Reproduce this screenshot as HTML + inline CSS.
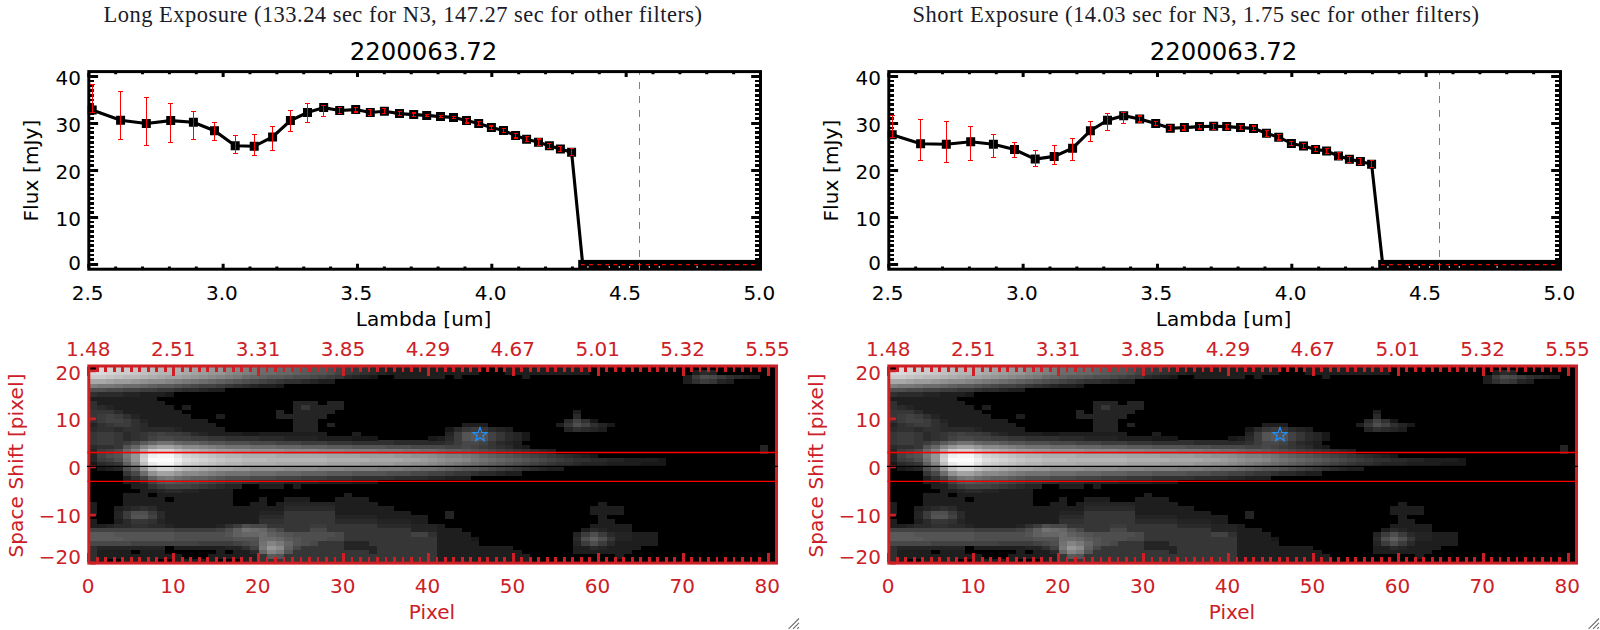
<!DOCTYPE html>
<html lang="en">
<head>
<meta charset="utf-8">
<title>Long and short exposure spectra 2200063.72</title>
<style>html,body{margin:0;padding:0;background:#fff;}body{width:1600px;height:630px;overflow:hidden;}svg{display:block;}text{white-space:pre;}</style>
</head>
<body>
<svg width="1600" height="630" viewBox="0 0 1600 630">
<rect width="1600" height="630" fill="#fff"/>
<defs>
<g id="spec" shape-rendering="crispEdges">
<rect x="88.8" y="366" width="687.7" height="197.1" fill="#000"/>
<rect x="88.8" y="558.72" width="8.54" height="4.43" fill="#303030"/>
<rect x="97.29" y="558.72" width="8.54" height="4.43" fill="#1e1e1e"/>
<rect x="122.76" y="558.72" width="34.01" height="4.43" fill="#1e1e1e"/>
<rect x="173.7" y="558.72" width="42.5" height="4.43" fill="#1e1e1e"/>
<rect x="241.62" y="558.72" width="17.03" height="4.43" fill="#1e1e1e"/>
<rect x="258.6" y="558.72" width="178.34" height="4.43" fill="#363636"/>
<rect x="436.9" y="558.72" width="93.44" height="4.43" fill="#1e1e1e"/>
<rect x="88.8" y="554.34" width="8.54" height="4.43" fill="#303030"/>
<rect x="97.29" y="554.34" width="84.95" height="4.43" fill="#1e1e1e"/>
<rect x="207.66" y="554.34" width="50.99" height="4.43" fill="#1e1e1e"/>
<rect x="258.6" y="554.34" width="8.54" height="4.43" fill="#363636"/>
<rect x="267.09" y="554.34" width="8.54" height="4.43" fill="#5a5a5a"/>
<rect x="275.58" y="554.34" width="8.54" height="4.43" fill="#545454"/>
<rect x="284.07" y="554.34" width="152.87" height="4.43" fill="#363636"/>
<rect x="436.9" y="554.34" width="93.44" height="4.43" fill="#1e1e1e"/>
<rect x="615.19" y="554.34" width="8.54" height="4.43" fill="#1e1e1e"/>
<rect x="88.8" y="549.96" width="8.54" height="4.43" fill="#303030"/>
<rect x="97.29" y="549.96" width="34.01" height="4.43" fill="#1e1e1e"/>
<rect x="139.74" y="549.96" width="25.52" height="4.43" fill="#1e1e1e"/>
<rect x="216.15" y="549.96" width="8.54" height="4.43" fill="#1e1e1e"/>
<rect x="233.13" y="549.96" width="17.03" height="4.43" fill="#1e1e1e"/>
<rect x="250.11" y="549.96" width="8.54" height="4.43" fill="#2a2a2a"/>
<rect x="258.6" y="549.96" width="8.54" height="4.43" fill="#666666"/>
<rect x="267.09" y="549.96" width="8.54" height="4.43" fill="#848484"/>
<rect x="275.58" y="549.96" width="8.54" height="4.43" fill="#787878"/>
<rect x="284.07" y="549.96" width="8.54" height="4.43" fill="#545454"/>
<rect x="292.56" y="549.96" width="76.46" height="4.43" fill="#363636"/>
<rect x="368.97" y="549.96" width="8.54" height="4.43" fill="#242424"/>
<rect x="377.46" y="549.96" width="59.48" height="4.43" fill="#363636"/>
<rect x="436.9" y="549.96" width="84.95" height="4.43" fill="#1e1e1e"/>
<rect x="572.74" y="549.96" width="59.48" height="4.43" fill="#1e1e1e"/>
<rect x="88.8" y="545.58" width="8.54" height="4.43" fill="#303030"/>
<rect x="97.29" y="545.58" width="67.97" height="4.43" fill="#242424"/>
<rect x="173.7" y="545.58" width="50.99" height="4.43" fill="#1e1e1e"/>
<rect x="224.64" y="545.58" width="17.03" height="4.43" fill="#242424"/>
<rect x="241.62" y="545.58" width="8.54" height="4.43" fill="#303030"/>
<rect x="250.11" y="545.58" width="8.54" height="4.43" fill="#424242"/>
<rect x="258.6" y="545.58" width="8.54" height="4.43" fill="#787878"/>
<rect x="267.09" y="545.58" width="8.54" height="4.43" fill="#969696"/>
<rect x="275.58" y="545.58" width="8.54" height="4.43" fill="#8a8a8a"/>
<rect x="284.07" y="545.58" width="8.54" height="4.43" fill="#606060"/>
<rect x="292.56" y="545.58" width="8.54" height="4.43" fill="#484848"/>
<rect x="301.05" y="545.58" width="42.5" height="4.43" fill="#363636"/>
<rect x="343.5" y="545.58" width="34.01" height="4.43" fill="#242424"/>
<rect x="377.46" y="545.58" width="59.48" height="4.43" fill="#363636"/>
<rect x="436.9" y="545.58" width="76.46" height="4.43" fill="#1e1e1e"/>
<rect x="572.74" y="545.58" width="17.03" height="4.43" fill="#1e1e1e"/>
<rect x="589.72" y="545.58" width="8.54" height="4.43" fill="#2a2a2a"/>
<rect x="598.21" y="545.58" width="8.54" height="4.43" fill="#242424"/>
<rect x="606.7" y="545.58" width="34.01" height="4.43" fill="#1e1e1e"/>
<rect x="88.8" y="541.2" width="42.5" height="4.43" fill="#484848"/>
<rect x="131.25" y="541.2" width="67.97" height="4.43" fill="#424242"/>
<rect x="199.17" y="541.2" width="34.01" height="4.43" fill="#3c3c3c"/>
<rect x="233.13" y="541.2" width="8.54" height="4.43" fill="#424242"/>
<rect x="241.62" y="541.2" width="8.54" height="4.43" fill="#484848"/>
<rect x="250.11" y="541.2" width="8.54" height="4.43" fill="#4e4e4e"/>
<rect x="258.6" y="541.2" width="8.54" height="4.43" fill="#727272"/>
<rect x="267.09" y="541.2" width="8.54" height="4.43" fill="#848484"/>
<rect x="275.58" y="541.2" width="8.54" height="4.43" fill="#787878"/>
<rect x="284.07" y="541.2" width="8.54" height="4.43" fill="#666666"/>
<rect x="292.56" y="541.2" width="8.54" height="4.43" fill="#545454"/>
<rect x="301.05" y="541.2" width="8.54" height="4.43" fill="#4e4e4e"/>
<rect x="309.54" y="541.2" width="8.54" height="4.43" fill="#484848"/>
<rect x="318.03" y="541.2" width="25.52" height="4.43" fill="#363636"/>
<rect x="343.5" y="541.2" width="25.52" height="4.43" fill="#242424"/>
<rect x="368.97" y="541.2" width="67.97" height="4.43" fill="#363636"/>
<rect x="436.9" y="541.2" width="42.5" height="4.43" fill="#1e1e1e"/>
<rect x="572.74" y="541.2" width="8.54" height="4.43" fill="#242424"/>
<rect x="581.23" y="541.2" width="8.54" height="4.43" fill="#3c3c3c"/>
<rect x="589.72" y="541.2" width="8.54" height="4.43" fill="#4e4e4e"/>
<rect x="598.21" y="541.2" width="8.54" height="4.43" fill="#3c3c3c"/>
<rect x="606.7" y="541.2" width="8.54" height="4.43" fill="#2a2a2a"/>
<rect x="615.19" y="541.2" width="42.5" height="4.43" fill="#1e1e1e"/>
<rect x="88.8" y="536.82" width="34.01" height="4.43" fill="#5a5a5a"/>
<rect x="122.76" y="536.82" width="50.99" height="4.43" fill="#545454"/>
<rect x="173.7" y="536.82" width="59.48" height="4.43" fill="#4e4e4e"/>
<rect x="233.13" y="536.82" width="25.52" height="4.43" fill="#545454"/>
<rect x="258.6" y="536.82" width="17.03" height="4.43" fill="#6c6c6c"/>
<rect x="275.58" y="536.82" width="8.54" height="4.43" fill="#666666"/>
<rect x="284.07" y="536.82" width="8.54" height="4.43" fill="#5a5a5a"/>
<rect x="292.56" y="536.82" width="8.54" height="4.43" fill="#545454"/>
<rect x="301.05" y="536.82" width="25.52" height="4.43" fill="#4e4e4e"/>
<rect x="326.52" y="536.82" width="17.03" height="4.43" fill="#484848"/>
<rect x="343.5" y="536.82" width="93.44" height="4.43" fill="#363636"/>
<rect x="436.9" y="536.82" width="34.01" height="4.43" fill="#1e1e1e"/>
<rect x="470.86" y="536.82" width="8.54" height="4.43" fill="#181818"/>
<rect x="572.74" y="536.82" width="8.54" height="4.43" fill="#2a2a2a"/>
<rect x="581.23" y="536.82" width="8.54" height="4.43" fill="#4e4e4e"/>
<rect x="589.72" y="536.82" width="8.54" height="4.43" fill="#606060"/>
<rect x="598.21" y="536.82" width="8.54" height="4.43" fill="#4e4e4e"/>
<rect x="606.7" y="536.82" width="8.54" height="4.43" fill="#363636"/>
<rect x="615.19" y="536.82" width="17.03" height="4.43" fill="#242424"/>
<rect x="632.17" y="536.82" width="25.52" height="4.43" fill="#1e1e1e"/>
<rect x="88.8" y="532.44" width="25.52" height="4.43" fill="#5a5a5a"/>
<rect x="114.27" y="532.44" width="59.48" height="4.43" fill="#545454"/>
<rect x="173.7" y="532.44" width="50.99" height="4.43" fill="#4e4e4e"/>
<rect x="224.64" y="532.44" width="8.54" height="4.43" fill="#545454"/>
<rect x="233.13" y="532.44" width="8.54" height="4.43" fill="#606060"/>
<rect x="241.62" y="532.44" width="17.03" height="4.43" fill="#666666"/>
<rect x="258.6" y="532.44" width="8.54" height="4.43" fill="#6c6c6c"/>
<rect x="267.09" y="532.44" width="8.54" height="4.43" fill="#606060"/>
<rect x="275.58" y="532.44" width="8.54" height="4.43" fill="#5a5a5a"/>
<rect x="284.07" y="532.44" width="8.54" height="4.43" fill="#545454"/>
<rect x="292.56" y="532.44" width="42.5" height="4.43" fill="#4e4e4e"/>
<rect x="335.01" y="532.44" width="8.54" height="4.43" fill="#484848"/>
<rect x="343.5" y="532.44" width="67.97" height="4.43" fill="#363636"/>
<rect x="411.42" y="532.44" width="17.03" height="4.43" fill="#424242"/>
<rect x="428.4" y="532.44" width="8.54" height="4.43" fill="#303030"/>
<rect x="436.9" y="532.44" width="34.01" height="4.43" fill="#1e1e1e"/>
<rect x="572.74" y="532.44" width="8.54" height="4.43" fill="#242424"/>
<rect x="581.23" y="532.44" width="8.54" height="4.43" fill="#3c3c3c"/>
<rect x="589.72" y="532.44" width="8.54" height="4.43" fill="#4e4e4e"/>
<rect x="598.21" y="532.44" width="8.54" height="4.43" fill="#3c3c3c"/>
<rect x="606.7" y="532.44" width="8.54" height="4.43" fill="#2a2a2a"/>
<rect x="615.19" y="532.44" width="17.03" height="4.43" fill="#242424"/>
<rect x="632.17" y="532.44" width="25.52" height="4.43" fill="#1e1e1e"/>
<rect x="88.8" y="528.06" width="84.95" height="4.43" fill="#424242"/>
<rect x="173.7" y="528.06" width="42.5" height="4.43" fill="#3c3c3c"/>
<rect x="216.15" y="528.06" width="8.54" height="4.43" fill="#424242"/>
<rect x="224.64" y="528.06" width="8.54" height="4.43" fill="#4e4e4e"/>
<rect x="233.13" y="528.06" width="8.54" height="4.43" fill="#606060"/>
<rect x="241.62" y="528.06" width="8.54" height="4.43" fill="#727272"/>
<rect x="250.11" y="528.06" width="8.54" height="4.43" fill="#6c6c6c"/>
<rect x="258.6" y="528.06" width="8.54" height="4.43" fill="#666666"/>
<rect x="267.09" y="528.06" width="8.54" height="4.43" fill="#545454"/>
<rect x="275.58" y="528.06" width="8.54" height="4.43" fill="#484848"/>
<rect x="284.07" y="528.06" width="25.52" height="4.43" fill="#363636"/>
<rect x="309.54" y="528.06" width="17.03" height="4.43" fill="#484848"/>
<rect x="326.52" y="528.06" width="84.95" height="4.43" fill="#363636"/>
<rect x="411.42" y="528.06" width="25.52" height="4.43" fill="#242424"/>
<rect x="436.9" y="528.06" width="25.52" height="4.43" fill="#1e1e1e"/>
<rect x="581.23" y="528.06" width="8.54" height="4.43" fill="#1e1e1e"/>
<rect x="589.72" y="528.06" width="8.54" height="4.43" fill="#2a2a2a"/>
<rect x="598.21" y="528.06" width="8.54" height="4.43" fill="#242424"/>
<rect x="606.7" y="528.06" width="25.52" height="4.43" fill="#1e1e1e"/>
<rect x="88.8" y="523.68" width="17.03" height="4.43" fill="#1e1e1e"/>
<rect x="105.78" y="523.68" width="8.54" height="4.43" fill="#242424"/>
<rect x="114.27" y="523.68" width="17.03" height="4.43" fill="#2a2a2a"/>
<rect x="131.25" y="523.68" width="17.03" height="4.43" fill="#303030"/>
<rect x="148.23" y="523.68" width="17.03" height="4.43" fill="#2a2a2a"/>
<rect x="165.21" y="523.68" width="8.54" height="4.43" fill="#242424"/>
<rect x="173.7" y="523.68" width="42.5" height="4.43" fill="#1e1e1e"/>
<rect x="216.15" y="523.68" width="8.54" height="4.43" fill="#242424"/>
<rect x="224.64" y="523.68" width="8.54" height="4.43" fill="#303030"/>
<rect x="233.13" y="523.68" width="8.54" height="4.43" fill="#3c3c3c"/>
<rect x="241.62" y="523.68" width="8.54" height="4.43" fill="#4e4e4e"/>
<rect x="250.11" y="523.68" width="17.03" height="4.43" fill="#484848"/>
<rect x="267.09" y="523.68" width="42.5" height="4.43" fill="#363636"/>
<rect x="309.54" y="523.68" width="17.03" height="4.43" fill="#3c3c3c"/>
<rect x="326.52" y="523.68" width="50.99" height="4.43" fill="#363636"/>
<rect x="377.46" y="523.68" width="34.01" height="4.43" fill="#2a2a2a"/>
<rect x="411.42" y="523.68" width="25.52" height="4.43" fill="#242424"/>
<rect x="436.9" y="523.68" width="8.54" height="4.43" fill="#1e1e1e"/>
<rect x="589.72" y="523.68" width="42.5" height="4.43" fill="#1e1e1e"/>
<rect x="88.8" y="519.3" width="8.54" height="4.43" fill="#1e1e1e"/>
<rect x="114.27" y="519.3" width="8.54" height="4.43" fill="#1e1e1e"/>
<rect x="122.76" y="519.3" width="8.54" height="4.43" fill="#2a2a2a"/>
<rect x="131.25" y="519.3" width="17.03" height="4.43" fill="#363636"/>
<rect x="148.23" y="519.3" width="8.54" height="4.43" fill="#303030"/>
<rect x="156.72" y="519.3" width="8.54" height="4.43" fill="#242424"/>
<rect x="165.21" y="519.3" width="93.44" height="4.43" fill="#1e1e1e"/>
<rect x="258.6" y="519.3" width="25.52" height="4.43" fill="#303030"/>
<rect x="284.07" y="519.3" width="50.99" height="4.43" fill="#363636"/>
<rect x="335.01" y="519.3" width="42.5" height="4.43" fill="#2a2a2a"/>
<rect x="377.46" y="519.3" width="34.01" height="4.43" fill="#242424"/>
<rect x="411.42" y="519.3" width="17.03" height="4.43" fill="#1e1e1e"/>
<rect x="598.21" y="519.3" width="17.03" height="4.43" fill="#1e1e1e"/>
<rect x="114.27" y="514.92" width="8.54" height="4.43" fill="#242424"/>
<rect x="122.76" y="514.92" width="8.54" height="4.43" fill="#3c3c3c"/>
<rect x="131.25" y="514.92" width="17.03" height="4.43" fill="#545454"/>
<rect x="148.23" y="514.92" width="8.54" height="4.43" fill="#424242"/>
<rect x="156.72" y="514.92" width="8.54" height="4.43" fill="#2a2a2a"/>
<rect x="165.21" y="514.92" width="93.44" height="4.43" fill="#1e1e1e"/>
<rect x="258.6" y="514.92" width="25.52" height="4.43" fill="#2a2a2a"/>
<rect x="284.07" y="514.92" width="50.99" height="4.43" fill="#363636"/>
<rect x="335.01" y="514.92" width="42.5" height="4.43" fill="#242424"/>
<rect x="377.46" y="514.92" width="50.99" height="4.43" fill="#1e1e1e"/>
<rect x="445.39" y="514.92" width="8.54" height="4.43" fill="#242424"/>
<rect x="598.21" y="514.92" width="8.54" height="4.43" fill="#1e1e1e"/>
<rect x="88.8" y="510.54" width="8.54" height="4.43" fill="#1e1e1e"/>
<rect x="114.27" y="510.54" width="8.54" height="4.43" fill="#242424"/>
<rect x="122.76" y="510.54" width="8.54" height="4.43" fill="#3c3c3c"/>
<rect x="131.25" y="510.54" width="17.03" height="4.43" fill="#4e4e4e"/>
<rect x="148.23" y="510.54" width="8.54" height="4.43" fill="#3c3c3c"/>
<rect x="156.72" y="510.54" width="8.54" height="4.43" fill="#2a2a2a"/>
<rect x="165.21" y="510.54" width="93.44" height="4.43" fill="#1e1e1e"/>
<rect x="258.6" y="510.54" width="25.52" height="4.43" fill="#242424"/>
<rect x="284.07" y="510.54" width="50.99" height="4.43" fill="#363636"/>
<rect x="335.01" y="510.54" width="76.46" height="4.43" fill="#1e1e1e"/>
<rect x="445.39" y="510.54" width="8.54" height="4.43" fill="#242424"/>
<rect x="589.72" y="510.54" width="34.01" height="4.43" fill="#1e1e1e"/>
<rect x="88.8" y="506.16" width="8.54" height="4.43" fill="#1e1e1e"/>
<rect x="114.27" y="506.16" width="8.54" height="4.43" fill="#1e1e1e"/>
<rect x="122.76" y="506.16" width="8.54" height="4.43" fill="#242424"/>
<rect x="131.25" y="506.16" width="8.54" height="4.43" fill="#2a2a2a"/>
<rect x="139.74" y="506.16" width="8.54" height="4.43" fill="#303030"/>
<rect x="148.23" y="506.16" width="8.54" height="4.43" fill="#2a2a2a"/>
<rect x="156.72" y="506.16" width="127.4" height="4.43" fill="#1e1e1e"/>
<rect x="284.07" y="506.16" width="50.99" height="4.43" fill="#2a2a2a"/>
<rect x="335.01" y="506.16" width="59.48" height="4.43" fill="#1e1e1e"/>
<rect x="589.72" y="506.16" width="34.01" height="4.43" fill="#1e1e1e"/>
<rect x="88.8" y="501.78" width="8.54" height="4.43" fill="#1e1e1e"/>
<rect x="122.76" y="501.78" width="110.42" height="4.43" fill="#1e1e1e"/>
<rect x="250.11" y="501.78" width="17.03" height="4.43" fill="#1e1e1e"/>
<rect x="275.58" y="501.78" width="8.54" height="4.43" fill="#1e1e1e"/>
<rect x="284.07" y="501.78" width="50.99" height="4.43" fill="#242424"/>
<rect x="335.01" y="501.78" width="42.5" height="4.43" fill="#1e1e1e"/>
<rect x="598.21" y="501.78" width="8.54" height="4.43" fill="#1e1e1e"/>
<rect x="122.76" y="497.4" width="42.5" height="4.43" fill="#1e1e1e"/>
<rect x="173.7" y="497.4" width="59.48" height="4.43" fill="#1e1e1e"/>
<rect x="258.6" y="497.4" width="8.54" height="4.43" fill="#1e1e1e"/>
<rect x="284.07" y="497.4" width="25.52" height="4.43" fill="#1e1e1e"/>
<rect x="335.01" y="497.4" width="34.01" height="4.43" fill="#1e1e1e"/>
<rect x="122.76" y="493.02" width="25.52" height="4.43" fill="#1e1e1e"/>
<rect x="156.72" y="493.02" width="76.46" height="4.43" fill="#1e1e1e"/>
<rect x="343.5" y="493.02" width="8.54" height="4.43" fill="#1e1e1e"/>
<rect x="139.74" y="488.64" width="17.03" height="4.43" fill="#1e1e1e"/>
<rect x="156.72" y="488.64" width="8.54" height="4.43" fill="#242424"/>
<rect x="165.21" y="488.64" width="17.03" height="4.43" fill="#2a2a2a"/>
<rect x="182.19" y="488.64" width="17.03" height="4.43" fill="#242424"/>
<rect x="199.17" y="488.64" width="34.01" height="4.43" fill="#1e1e1e"/>
<rect x="131.25" y="484.26" width="17.03" height="4.43" fill="#1e1e1e"/>
<rect x="148.23" y="484.26" width="8.54" height="4.43" fill="#303030"/>
<rect x="156.72" y="484.26" width="8.54" height="4.43" fill="#3c3c3c"/>
<rect x="165.21" y="484.26" width="25.52" height="4.43" fill="#424242"/>
<rect x="190.68" y="484.26" width="8.54" height="4.43" fill="#3c3c3c"/>
<rect x="199.17" y="484.26" width="8.54" height="4.43" fill="#363636"/>
<rect x="207.66" y="484.26" width="8.54" height="4.43" fill="#303030"/>
<rect x="216.15" y="484.26" width="8.54" height="4.43" fill="#2a2a2a"/>
<rect x="224.64" y="484.26" width="17.03" height="4.43" fill="#242424"/>
<rect x="258.6" y="484.26" width="25.52" height="4.43" fill="#1e1e1e"/>
<rect x="292.56" y="484.26" width="8.54" height="4.43" fill="#1e1e1e"/>
<rect x="122.76" y="479.88" width="17.03" height="4.43" fill="#1e1e1e"/>
<rect x="139.74" y="479.88" width="8.54" height="4.43" fill="#2a2a2a"/>
<rect x="148.23" y="479.88" width="8.54" height="4.43" fill="#424242"/>
<rect x="156.72" y="479.88" width="8.54" height="4.43" fill="#545454"/>
<rect x="165.21" y="479.88" width="8.54" height="4.43" fill="#5a5a5a"/>
<rect x="173.7" y="479.88" width="8.54" height="4.43" fill="#545454"/>
<rect x="182.19" y="479.88" width="17.03" height="4.43" fill="#4e4e4e"/>
<rect x="199.17" y="479.88" width="8.54" height="4.43" fill="#484848"/>
<rect x="207.66" y="479.88" width="8.54" height="4.43" fill="#424242"/>
<rect x="216.15" y="479.88" width="8.54" height="4.43" fill="#3c3c3c"/>
<rect x="224.64" y="479.88" width="17.03" height="4.43" fill="#363636"/>
<rect x="241.62" y="479.88" width="17.03" height="4.43" fill="#303030"/>
<rect x="258.6" y="479.88" width="25.52" height="4.43" fill="#2a2a2a"/>
<rect x="284.07" y="479.88" width="34.01" height="4.43" fill="#242424"/>
<rect x="318.03" y="479.88" width="34.01" height="4.43" fill="#1e1e1e"/>
<rect x="351.99" y="479.88" width="25.52" height="4.43" fill="#181818"/>
<rect x="122.76" y="475.5" width="8.54" height="4.43" fill="#1e1e1e"/>
<rect x="131.25" y="475.5" width="8.54" height="4.43" fill="#303030"/>
<rect x="139.74" y="475.5" width="8.54" height="4.43" fill="#424242"/>
<rect x="148.23" y="475.5" width="8.54" height="4.43" fill="#606060"/>
<rect x="156.72" y="475.5" width="8.54" height="4.43" fill="#727272"/>
<rect x="165.21" y="475.5" width="8.54" height="4.43" fill="#787878"/>
<rect x="173.7" y="475.5" width="8.54" height="4.43" fill="#6c6c6c"/>
<rect x="182.19" y="475.5" width="8.54" height="4.43" fill="#666666"/>
<rect x="190.68" y="475.5" width="17.03" height="4.43" fill="#606060"/>
<rect x="207.66" y="475.5" width="8.54" height="4.43" fill="#5a5a5a"/>
<rect x="216.15" y="475.5" width="8.54" height="4.43" fill="#545454"/>
<rect x="224.64" y="475.5" width="25.52" height="4.43" fill="#4e4e4e"/>
<rect x="250.11" y="475.5" width="25.52" height="4.43" fill="#484848"/>
<rect x="275.58" y="475.5" width="25.52" height="4.43" fill="#424242"/>
<rect x="301.05" y="475.5" width="25.52" height="4.43" fill="#3c3c3c"/>
<rect x="326.52" y="475.5" width="25.52" height="4.43" fill="#363636"/>
<rect x="351.99" y="475.5" width="42.5" height="4.43" fill="#303030"/>
<rect x="394.44" y="475.5" width="34.01" height="4.43" fill="#2a2a2a"/>
<rect x="428.4" y="475.5" width="17.03" height="4.43" fill="#242424"/>
<rect x="445.39" y="475.5" width="25.52" height="4.43" fill="#1e1e1e"/>
<rect x="122.76" y="471.12" width="8.54" height="4.43" fill="#363636"/>
<rect x="131.25" y="471.12" width="8.54" height="4.43" fill="#484848"/>
<rect x="139.74" y="471.12" width="8.54" height="4.43" fill="#6c6c6c"/>
<rect x="148.23" y="471.12" width="8.54" height="4.43" fill="#909090"/>
<rect x="156.72" y="471.12" width="17.03" height="4.43" fill="#a2a2a2"/>
<rect x="173.7" y="471.12" width="8.54" height="4.43" fill="#969696"/>
<rect x="182.19" y="471.12" width="17.03" height="4.43" fill="#8a8a8a"/>
<rect x="199.17" y="471.12" width="8.54" height="4.43" fill="#848484"/>
<rect x="207.66" y="471.12" width="8.54" height="4.43" fill="#7e7e7e"/>
<rect x="216.15" y="471.12" width="8.54" height="4.43" fill="#787878"/>
<rect x="224.64" y="471.12" width="25.52" height="4.43" fill="#727272"/>
<rect x="250.11" y="471.12" width="25.52" height="4.43" fill="#6c6c6c"/>
<rect x="275.58" y="471.12" width="25.52" height="4.43" fill="#666666"/>
<rect x="301.05" y="471.12" width="25.52" height="4.43" fill="#606060"/>
<rect x="326.52" y="471.12" width="25.52" height="4.43" fill="#5a5a5a"/>
<rect x="351.99" y="471.12" width="34.01" height="4.43" fill="#545454"/>
<rect x="385.95" y="471.12" width="25.52" height="4.43" fill="#4e4e4e"/>
<rect x="411.42" y="471.12" width="17.03" height="4.43" fill="#484848"/>
<rect x="428.4" y="471.12" width="17.03" height="4.43" fill="#424242"/>
<rect x="445.39" y="471.12" width="8.54" height="4.43" fill="#3c3c3c"/>
<rect x="453.88" y="471.12" width="17.03" height="4.43" fill="#363636"/>
<rect x="470.86" y="471.12" width="8.54" height="4.43" fill="#303030"/>
<rect x="479.35" y="471.12" width="17.03" height="4.43" fill="#2a2a2a"/>
<rect x="496.33" y="471.12" width="8.54" height="4.43" fill="#242424"/>
<rect x="504.82" y="471.12" width="17.03" height="4.43" fill="#1e1e1e"/>
<rect x="97.29" y="466.74" width="8.54" height="4.43" fill="#181818"/>
<rect x="105.78" y="466.74" width="8.54" height="4.43" fill="#1e1e1e"/>
<rect x="114.27" y="466.74" width="8.54" height="4.43" fill="#242424"/>
<rect x="122.76" y="466.74" width="8.54" height="4.43" fill="#4e4e4e"/>
<rect x="131.25" y="466.74" width="8.54" height="4.43" fill="#666666"/>
<rect x="139.74" y="466.74" width="8.54" height="4.43" fill="#969696"/>
<rect x="148.23" y="466.74" width="8.54" height="4.43" fill="#c0c0c0"/>
<rect x="156.72" y="466.74" width="17.03" height="4.43" fill="#d2d2d2"/>
<rect x="173.7" y="466.74" width="8.54" height="4.43" fill="#c0c0c0"/>
<rect x="182.19" y="466.74" width="8.54" height="4.43" fill="#b4b4b4"/>
<rect x="190.68" y="466.74" width="8.54" height="4.43" fill="#aeaeae"/>
<rect x="199.17" y="466.74" width="8.54" height="4.43" fill="#a8a8a8"/>
<rect x="207.66" y="466.74" width="8.54" height="4.43" fill="#a2a2a2"/>
<rect x="216.15" y="466.74" width="17.03" height="4.43" fill="#9c9c9c"/>
<rect x="233.13" y="466.74" width="17.03" height="4.43" fill="#969696"/>
<rect x="250.11" y="466.74" width="34.01" height="4.43" fill="#909090"/>
<rect x="284.07" y="466.74" width="34.01" height="4.43" fill="#8a8a8a"/>
<rect x="318.03" y="466.74" width="25.52" height="4.43" fill="#848484"/>
<rect x="343.5" y="466.74" width="34.01" height="4.43" fill="#7e7e7e"/>
<rect x="377.46" y="466.74" width="25.52" height="4.43" fill="#787878"/>
<rect x="402.93" y="466.74" width="17.03" height="4.43" fill="#727272"/>
<rect x="419.91" y="466.74" width="17.03" height="4.43" fill="#6c6c6c"/>
<rect x="436.9" y="466.74" width="8.54" height="4.43" fill="#666666"/>
<rect x="445.39" y="466.74" width="8.54" height="4.43" fill="#606060"/>
<rect x="453.88" y="466.74" width="8.54" height="4.43" fill="#5a5a5a"/>
<rect x="462.37" y="466.74" width="17.03" height="4.43" fill="#545454"/>
<rect x="479.35" y="466.74" width="8.54" height="4.43" fill="#4e4e4e"/>
<rect x="487.84" y="466.74" width="8.54" height="4.43" fill="#484848"/>
<rect x="496.33" y="466.74" width="8.54" height="4.43" fill="#424242"/>
<rect x="504.82" y="466.74" width="8.54" height="4.43" fill="#3c3c3c"/>
<rect x="513.31" y="466.74" width="8.54" height="4.43" fill="#363636"/>
<rect x="521.8" y="466.74" width="8.54" height="4.43" fill="#303030"/>
<rect x="530.29" y="466.74" width="8.54" height="4.43" fill="#2a2a2a"/>
<rect x="538.78" y="466.74" width="8.54" height="4.43" fill="#242424"/>
<rect x="547.27" y="466.74" width="17.03" height="4.43" fill="#1e1e1e"/>
<rect x="88.8" y="462.36" width="8.54" height="4.43" fill="#181818"/>
<rect x="97.29" y="462.36" width="8.54" height="4.43" fill="#2a2a2a"/>
<rect x="105.78" y="462.36" width="8.54" height="4.43" fill="#303030"/>
<rect x="114.27" y="462.36" width="8.54" height="4.43" fill="#363636"/>
<rect x="122.76" y="462.36" width="8.54" height="4.43" fill="#606060"/>
<rect x="131.25" y="462.36" width="8.54" height="4.43" fill="#848484"/>
<rect x="139.74" y="462.36" width="8.54" height="4.43" fill="#c0c0c0"/>
<rect x="148.23" y="462.36" width="8.54" height="4.43" fill="#eaeaea"/>
<rect x="156.72" y="462.36" width="17.03" height="4.43" fill="#f6f6f6"/>
<rect x="173.7" y="462.36" width="8.54" height="4.43" fill="#e4e4e4"/>
<rect x="182.19" y="462.36" width="8.54" height="4.43" fill="#d2d2d2"/>
<rect x="190.68" y="462.36" width="8.54" height="4.43" fill="#cccccc"/>
<rect x="199.17" y="462.36" width="8.54" height="4.43" fill="#c6c6c6"/>
<rect x="207.66" y="462.36" width="8.54" height="4.43" fill="#c0c0c0"/>
<rect x="216.15" y="462.36" width="8.54" height="4.43" fill="#bababa"/>
<rect x="224.64" y="462.36" width="17.03" height="4.43" fill="#b4b4b4"/>
<rect x="241.62" y="462.36" width="34.01" height="4.43" fill="#aeaeae"/>
<rect x="275.58" y="462.36" width="50.99" height="4.43" fill="#a8a8a8"/>
<rect x="326.52" y="462.36" width="34.01" height="4.43" fill="#a2a2a2"/>
<rect x="360.48" y="462.36" width="34.01" height="4.43" fill="#9c9c9c"/>
<rect x="394.44" y="462.36" width="17.03" height="4.43" fill="#969696"/>
<rect x="411.42" y="462.36" width="17.03" height="4.43" fill="#909090"/>
<rect x="428.4" y="462.36" width="8.54" height="4.43" fill="#8a8a8a"/>
<rect x="436.9" y="462.36" width="8.54" height="4.43" fill="#848484"/>
<rect x="445.39" y="462.36" width="8.54" height="4.43" fill="#7e7e7e"/>
<rect x="453.88" y="462.36" width="8.54" height="4.43" fill="#787878"/>
<rect x="462.37" y="462.36" width="8.54" height="4.43" fill="#727272"/>
<rect x="470.86" y="462.36" width="8.54" height="4.43" fill="#6c6c6c"/>
<rect x="479.35" y="462.36" width="8.54" height="4.43" fill="#666666"/>
<rect x="487.84" y="462.36" width="8.54" height="4.43" fill="#606060"/>
<rect x="496.33" y="462.36" width="8.54" height="4.43" fill="#5a5a5a"/>
<rect x="504.82" y="462.36" width="8.54" height="4.43" fill="#545454"/>
<rect x="513.31" y="462.36" width="8.54" height="4.43" fill="#4e4e4e"/>
<rect x="521.8" y="462.36" width="8.54" height="4.43" fill="#484848"/>
<rect x="530.29" y="462.36" width="8.54" height="4.43" fill="#424242"/>
<rect x="538.78" y="462.36" width="8.54" height="4.43" fill="#3c3c3c"/>
<rect x="547.27" y="462.36" width="8.54" height="4.43" fill="#363636"/>
<rect x="555.76" y="462.36" width="17.03" height="4.43" fill="#303030"/>
<rect x="572.74" y="462.36" width="8.54" height="4.43" fill="#2a2a2a"/>
<rect x="581.23" y="462.36" width="25.52" height="4.43" fill="#242424"/>
<rect x="606.7" y="462.36" width="34.01" height="4.43" fill="#1e1e1e"/>
<rect x="640.66" y="462.36" width="25.52" height="4.43" fill="#181818"/>
<rect x="88.8" y="457.98" width="8.54" height="4.43" fill="#242424"/>
<rect x="97.29" y="457.98" width="8.54" height="4.43" fill="#3c3c3c"/>
<rect x="105.78" y="457.98" width="8.54" height="4.43" fill="#424242"/>
<rect x="114.27" y="457.98" width="8.54" height="4.43" fill="#4e4e4e"/>
<rect x="122.76" y="457.98" width="8.54" height="4.43" fill="#727272"/>
<rect x="131.25" y="457.98" width="8.54" height="4.43" fill="#969696"/>
<rect x="139.74" y="457.98" width="8.54" height="4.43" fill="#d2d2d2"/>
<rect x="148.23" y="457.98" width="25.52" height="4.43" fill="#fcfcfc"/>
<rect x="173.7" y="457.98" width="8.54" height="4.43" fill="#f0f0f0"/>
<rect x="182.19" y="457.98" width="8.54" height="4.43" fill="#dedede"/>
<rect x="190.68" y="457.98" width="8.54" height="4.43" fill="#d8d8d8"/>
<rect x="199.17" y="457.98" width="8.54" height="4.43" fill="#d2d2d2"/>
<rect x="207.66" y="457.98" width="8.54" height="4.43" fill="#cccccc"/>
<rect x="216.15" y="457.98" width="8.54" height="4.43" fill="#c6c6c6"/>
<rect x="224.64" y="457.98" width="17.03" height="4.43" fill="#c0c0c0"/>
<rect x="241.62" y="457.98" width="25.52" height="4.43" fill="#bababa"/>
<rect x="267.09" y="457.98" width="59.48" height="4.43" fill="#b4b4b4"/>
<rect x="326.52" y="457.98" width="42.5" height="4.43" fill="#aeaeae"/>
<rect x="368.97" y="457.98" width="34.01" height="4.43" fill="#a8a8a8"/>
<rect x="402.93" y="457.98" width="17.03" height="4.43" fill="#a2a2a2"/>
<rect x="419.91" y="457.98" width="8.54" height="4.43" fill="#9c9c9c"/>
<rect x="428.4" y="457.98" width="8.54" height="4.43" fill="#969696"/>
<rect x="436.9" y="457.98" width="8.54" height="4.43" fill="#909090"/>
<rect x="445.39" y="457.98" width="17.03" height="4.43" fill="#8a8a8a"/>
<rect x="462.37" y="457.98" width="8.54" height="4.43" fill="#848484"/>
<rect x="470.86" y="457.98" width="8.54" height="4.43" fill="#787878"/>
<rect x="479.35" y="457.98" width="8.54" height="4.43" fill="#727272"/>
<rect x="487.84" y="457.98" width="8.54" height="4.43" fill="#6c6c6c"/>
<rect x="496.33" y="457.98" width="8.54" height="4.43" fill="#666666"/>
<rect x="504.82" y="457.98" width="8.54" height="4.43" fill="#606060"/>
<rect x="513.31" y="457.98" width="8.54" height="4.43" fill="#5a5a5a"/>
<rect x="521.8" y="457.98" width="8.54" height="4.43" fill="#545454"/>
<rect x="530.29" y="457.98" width="8.54" height="4.43" fill="#4e4e4e"/>
<rect x="538.78" y="457.98" width="8.54" height="4.43" fill="#484848"/>
<rect x="547.27" y="457.98" width="8.54" height="4.43" fill="#424242"/>
<rect x="555.76" y="457.98" width="8.54" height="4.43" fill="#3c3c3c"/>
<rect x="564.25" y="457.98" width="8.54" height="4.43" fill="#363636"/>
<rect x="572.74" y="457.98" width="17.03" height="4.43" fill="#303030"/>
<rect x="589.72" y="457.98" width="17.03" height="4.43" fill="#2a2a2a"/>
<rect x="606.7" y="457.98" width="17.03" height="4.43" fill="#242424"/>
<rect x="623.68" y="457.98" width="34.01" height="4.43" fill="#1e1e1e"/>
<rect x="657.64" y="457.98" width="8.54" height="4.43" fill="#181818"/>
<rect x="88.8" y="453.6" width="8.54" height="4.43" fill="#242424"/>
<rect x="97.29" y="453.6" width="8.54" height="4.43" fill="#424242"/>
<rect x="105.78" y="453.6" width="8.54" height="4.43" fill="#4e4e4e"/>
<rect x="114.27" y="453.6" width="8.54" height="4.43" fill="#545454"/>
<rect x="122.76" y="453.6" width="8.54" height="4.43" fill="#787878"/>
<rect x="131.25" y="453.6" width="8.54" height="4.43" fill="#969696"/>
<rect x="139.74" y="453.6" width="8.54" height="4.43" fill="#cccccc"/>
<rect x="148.23" y="453.6" width="8.54" height="4.43" fill="#f0f0f0"/>
<rect x="156.72" y="453.6" width="17.03" height="4.43" fill="#f6f6f6"/>
<rect x="173.7" y="453.6" width="8.54" height="4.43" fill="#e4e4e4"/>
<rect x="182.19" y="453.6" width="8.54" height="4.43" fill="#d2d2d2"/>
<rect x="190.68" y="453.6" width="8.54" height="4.43" fill="#cccccc"/>
<rect x="199.17" y="453.6" width="8.54" height="4.43" fill="#c6c6c6"/>
<rect x="207.66" y="453.6" width="8.54" height="4.43" fill="#c0c0c0"/>
<rect x="216.15" y="453.6" width="8.54" height="4.43" fill="#bababa"/>
<rect x="224.64" y="453.6" width="17.03" height="4.43" fill="#b4b4b4"/>
<rect x="241.62" y="453.6" width="34.01" height="4.43" fill="#aeaeae"/>
<rect x="275.58" y="453.6" width="50.99" height="4.43" fill="#a8a8a8"/>
<rect x="326.52" y="453.6" width="34.01" height="4.43" fill="#a2a2a2"/>
<rect x="360.48" y="453.6" width="34.01" height="4.43" fill="#9c9c9c"/>
<rect x="394.44" y="453.6" width="17.03" height="4.43" fill="#969696"/>
<rect x="411.42" y="453.6" width="17.03" height="4.43" fill="#909090"/>
<rect x="428.4" y="453.6" width="8.54" height="4.43" fill="#8a8a8a"/>
<rect x="436.9" y="453.6" width="8.54" height="4.43" fill="#848484"/>
<rect x="445.39" y="453.6" width="17.03" height="4.43" fill="#7e7e7e"/>
<rect x="462.37" y="453.6" width="8.54" height="4.43" fill="#787878"/>
<rect x="470.86" y="453.6" width="8.54" height="4.43" fill="#727272"/>
<rect x="479.35" y="453.6" width="8.54" height="4.43" fill="#666666"/>
<rect x="487.84" y="453.6" width="8.54" height="4.43" fill="#606060"/>
<rect x="496.33" y="453.6" width="8.54" height="4.43" fill="#5a5a5a"/>
<rect x="504.82" y="453.6" width="8.54" height="4.43" fill="#545454"/>
<rect x="513.31" y="453.6" width="8.54" height="4.43" fill="#4e4e4e"/>
<rect x="521.8" y="453.6" width="8.54" height="4.43" fill="#484848"/>
<rect x="530.29" y="453.6" width="8.54" height="4.43" fill="#424242"/>
<rect x="538.78" y="453.6" width="8.54" height="4.43" fill="#3c3c3c"/>
<rect x="547.27" y="453.6" width="8.54" height="4.43" fill="#363636"/>
<rect x="555.76" y="453.6" width="8.54" height="4.43" fill="#303030"/>
<rect x="564.25" y="453.6" width="8.54" height="4.43" fill="#2a2a2a"/>
<rect x="572.74" y="453.6" width="8.54" height="4.43" fill="#242424"/>
<rect x="581.23" y="453.6" width="8.54" height="4.43" fill="#1e1e1e"/>
<rect x="589.72" y="453.6" width="8.54" height="4.43" fill="#181818"/>
<rect x="88.8" y="449.22" width="8.54" height="4.43" fill="#242424"/>
<rect x="97.29" y="449.22" width="8.54" height="4.43" fill="#3c3c3c"/>
<rect x="105.78" y="449.22" width="8.54" height="4.43" fill="#424242"/>
<rect x="114.27" y="449.22" width="8.54" height="4.43" fill="#4e4e4e"/>
<rect x="122.76" y="449.22" width="8.54" height="4.43" fill="#6c6c6c"/>
<rect x="131.25" y="449.22" width="8.54" height="4.43" fill="#848484"/>
<rect x="139.74" y="449.22" width="8.54" height="4.43" fill="#aeaeae"/>
<rect x="148.23" y="449.22" width="8.54" height="4.43" fill="#cccccc"/>
<rect x="156.72" y="449.22" width="17.03" height="4.43" fill="#d2d2d2"/>
<rect x="173.7" y="449.22" width="8.54" height="4.43" fill="#c0c0c0"/>
<rect x="182.19" y="449.22" width="8.54" height="4.43" fill="#b4b4b4"/>
<rect x="190.68" y="449.22" width="8.54" height="4.43" fill="#aeaeae"/>
<rect x="199.17" y="449.22" width="8.54" height="4.43" fill="#a8a8a8"/>
<rect x="207.66" y="449.22" width="8.54" height="4.43" fill="#a2a2a2"/>
<rect x="216.15" y="449.22" width="17.03" height="4.43" fill="#9c9c9c"/>
<rect x="233.13" y="449.22" width="17.03" height="4.43" fill="#969696"/>
<rect x="250.11" y="449.22" width="34.01" height="4.43" fill="#909090"/>
<rect x="284.07" y="449.22" width="34.01" height="4.43" fill="#8a8a8a"/>
<rect x="318.03" y="449.22" width="25.52" height="4.43" fill="#848484"/>
<rect x="343.5" y="449.22" width="34.01" height="4.43" fill="#7e7e7e"/>
<rect x="377.46" y="449.22" width="25.52" height="4.43" fill="#787878"/>
<rect x="402.93" y="449.22" width="17.03" height="4.43" fill="#727272"/>
<rect x="419.91" y="449.22" width="17.03" height="4.43" fill="#6c6c6c"/>
<rect x="436.9" y="449.22" width="8.54" height="4.43" fill="#666666"/>
<rect x="445.39" y="449.22" width="17.03" height="4.43" fill="#606060"/>
<rect x="462.37" y="449.22" width="8.54" height="4.43" fill="#5a5a5a"/>
<rect x="470.86" y="449.22" width="8.54" height="4.43" fill="#545454"/>
<rect x="479.35" y="449.22" width="8.54" height="4.43" fill="#4e4e4e"/>
<rect x="487.84" y="449.22" width="8.54" height="4.43" fill="#484848"/>
<rect x="496.33" y="449.22" width="8.54" height="4.43" fill="#424242"/>
<rect x="504.82" y="449.22" width="8.54" height="4.43" fill="#3c3c3c"/>
<rect x="513.31" y="449.22" width="8.54" height="4.43" fill="#363636"/>
<rect x="521.8" y="449.22" width="8.54" height="4.43" fill="#303030"/>
<rect x="530.29" y="449.22" width="8.54" height="4.43" fill="#2a2a2a"/>
<rect x="538.78" y="449.22" width="8.54" height="4.43" fill="#242424"/>
<rect x="547.27" y="449.22" width="8.54" height="4.43" fill="#1e1e1e"/>
<rect x="759.52" y="449.22" width="8.54" height="4.43" fill="#242424"/>
<rect x="88.8" y="444.84" width="8.54" height="4.43" fill="#2a2a2a"/>
<rect x="97.29" y="444.84" width="17.03" height="4.43" fill="#303030"/>
<rect x="114.27" y="444.84" width="8.54" height="4.43" fill="#363636"/>
<rect x="122.76" y="444.84" width="8.54" height="4.43" fill="#545454"/>
<rect x="131.25" y="444.84" width="8.54" height="4.43" fill="#666666"/>
<rect x="139.74" y="444.84" width="8.54" height="4.43" fill="#848484"/>
<rect x="148.23" y="444.84" width="8.54" height="4.43" fill="#969696"/>
<rect x="156.72" y="444.84" width="17.03" height="4.43" fill="#a2a2a2"/>
<rect x="173.7" y="444.84" width="8.54" height="4.43" fill="#969696"/>
<rect x="182.19" y="444.84" width="17.03" height="4.43" fill="#8a8a8a"/>
<rect x="199.17" y="444.84" width="8.54" height="4.43" fill="#848484"/>
<rect x="207.66" y="444.84" width="8.54" height="4.43" fill="#7e7e7e"/>
<rect x="216.15" y="444.84" width="8.54" height="4.43" fill="#787878"/>
<rect x="224.64" y="444.84" width="25.52" height="4.43" fill="#727272"/>
<rect x="250.11" y="444.84" width="25.52" height="4.43" fill="#6c6c6c"/>
<rect x="275.58" y="444.84" width="25.52" height="4.43" fill="#666666"/>
<rect x="301.05" y="444.84" width="25.52" height="4.43" fill="#606060"/>
<rect x="326.52" y="444.84" width="25.52" height="4.43" fill="#5a5a5a"/>
<rect x="351.99" y="444.84" width="34.01" height="4.43" fill="#545454"/>
<rect x="385.95" y="444.84" width="25.52" height="4.43" fill="#4e4e4e"/>
<rect x="411.42" y="444.84" width="34.01" height="4.43" fill="#484848"/>
<rect x="445.39" y="444.84" width="17.03" height="4.43" fill="#424242"/>
<rect x="462.37" y="444.84" width="8.54" height="4.43" fill="#484848"/>
<rect x="470.86" y="444.84" width="8.54" height="4.43" fill="#424242"/>
<rect x="479.35" y="444.84" width="8.54" height="4.43" fill="#3c3c3c"/>
<rect x="487.84" y="444.84" width="8.54" height="4.43" fill="#363636"/>
<rect x="496.33" y="444.84" width="8.54" height="4.43" fill="#303030"/>
<rect x="504.82" y="444.84" width="8.54" height="4.43" fill="#2a2a2a"/>
<rect x="513.31" y="444.84" width="8.54" height="4.43" fill="#1e1e1e"/>
<rect x="521.8" y="444.84" width="8.54" height="4.43" fill="#181818"/>
<rect x="759.52" y="444.84" width="8.54" height="4.43" fill="#242424"/>
<rect x="88.8" y="440.46" width="8.54" height="4.43" fill="#363636"/>
<rect x="97.29" y="440.46" width="17.03" height="4.43" fill="#3c3c3c"/>
<rect x="114.27" y="440.46" width="8.54" height="4.43" fill="#363636"/>
<rect x="122.76" y="440.46" width="8.54" height="4.43" fill="#3c3c3c"/>
<rect x="131.25" y="440.46" width="8.54" height="4.43" fill="#484848"/>
<rect x="139.74" y="440.46" width="8.54" height="4.43" fill="#5a5a5a"/>
<rect x="148.23" y="440.46" width="8.54" height="4.43" fill="#666666"/>
<rect x="156.72" y="440.46" width="17.03" height="4.43" fill="#727272"/>
<rect x="173.7" y="440.46" width="8.54" height="4.43" fill="#666666"/>
<rect x="182.19" y="440.46" width="17.03" height="4.43" fill="#606060"/>
<rect x="199.17" y="440.46" width="8.54" height="4.43" fill="#5a5a5a"/>
<rect x="207.66" y="440.46" width="17.03" height="4.43" fill="#545454"/>
<rect x="224.64" y="440.46" width="25.52" height="4.43" fill="#4e4e4e"/>
<rect x="250.11" y="440.46" width="25.52" height="4.43" fill="#484848"/>
<rect x="275.58" y="440.46" width="25.52" height="4.43" fill="#424242"/>
<rect x="301.05" y="440.46" width="25.52" height="4.43" fill="#3c3c3c"/>
<rect x="326.52" y="440.46" width="25.52" height="4.43" fill="#363636"/>
<rect x="351.99" y="440.46" width="42.5" height="4.43" fill="#303030"/>
<rect x="394.44" y="440.46" width="50.99" height="4.43" fill="#2a2a2a"/>
<rect x="445.39" y="440.46" width="8.54" height="4.43" fill="#303030"/>
<rect x="453.88" y="440.46" width="8.54" height="4.43" fill="#3c3c3c"/>
<rect x="462.37" y="440.46" width="17.03" height="4.43" fill="#484848"/>
<rect x="479.35" y="440.46" width="8.54" height="4.43" fill="#424242"/>
<rect x="487.84" y="440.46" width="8.54" height="4.43" fill="#363636"/>
<rect x="496.33" y="440.46" width="8.54" height="4.43" fill="#2a2a2a"/>
<rect x="504.82" y="440.46" width="8.54" height="4.43" fill="#242424"/>
<rect x="513.31" y="440.46" width="8.54" height="4.43" fill="#1e1e1e"/>
<rect x="88.8" y="436.08" width="8.54" height="4.43" fill="#363636"/>
<rect x="97.29" y="436.08" width="17.03" height="4.43" fill="#3c3c3c"/>
<rect x="114.27" y="436.08" width="8.54" height="4.43" fill="#363636"/>
<rect x="122.76" y="436.08" width="8.54" height="4.43" fill="#2a2a2a"/>
<rect x="131.25" y="436.08" width="8.54" height="4.43" fill="#303030"/>
<rect x="139.74" y="436.08" width="8.54" height="4.43" fill="#363636"/>
<rect x="148.23" y="436.08" width="8.54" height="4.43" fill="#424242"/>
<rect x="156.72" y="436.08" width="17.03" height="4.43" fill="#484848"/>
<rect x="173.7" y="436.08" width="17.03" height="4.43" fill="#424242"/>
<rect x="190.68" y="436.08" width="17.03" height="4.43" fill="#3c3c3c"/>
<rect x="207.66" y="436.08" width="17.03" height="4.43" fill="#363636"/>
<rect x="224.64" y="436.08" width="34.01" height="4.43" fill="#303030"/>
<rect x="258.6" y="436.08" width="25.52" height="4.43" fill="#2a2a2a"/>
<rect x="284.07" y="436.08" width="34.01" height="4.43" fill="#242424"/>
<rect x="318.03" y="436.08" width="34.01" height="4.43" fill="#1e1e1e"/>
<rect x="351.99" y="436.08" width="25.52" height="4.43" fill="#181818"/>
<rect x="428.4" y="436.08" width="8.54" height="4.43" fill="#181818"/>
<rect x="436.9" y="436.08" width="8.54" height="4.43" fill="#1e1e1e"/>
<rect x="445.39" y="436.08" width="8.54" height="4.43" fill="#2a2a2a"/>
<rect x="453.88" y="436.08" width="8.54" height="4.43" fill="#3c3c3c"/>
<rect x="462.37" y="436.08" width="8.54" height="4.43" fill="#545454"/>
<rect x="470.86" y="436.08" width="8.54" height="4.43" fill="#5a5a5a"/>
<rect x="479.35" y="436.08" width="8.54" height="4.43" fill="#545454"/>
<rect x="487.84" y="436.08" width="8.54" height="4.43" fill="#424242"/>
<rect x="496.33" y="436.08" width="8.54" height="4.43" fill="#363636"/>
<rect x="504.82" y="436.08" width="8.54" height="4.43" fill="#2a2a2a"/>
<rect x="513.31" y="436.08" width="8.54" height="4.43" fill="#242424"/>
<rect x="521.8" y="436.08" width="8.54" height="4.43" fill="#181818"/>
<rect x="88.8" y="431.7" width="8.54" height="4.43" fill="#363636"/>
<rect x="97.29" y="431.7" width="17.03" height="4.43" fill="#3c3c3c"/>
<rect x="114.27" y="431.7" width="8.54" height="4.43" fill="#363636"/>
<rect x="122.76" y="431.7" width="8.54" height="4.43" fill="#2a2a2a"/>
<rect x="131.25" y="431.7" width="8.54" height="4.43" fill="#303030"/>
<rect x="139.74" y="431.7" width="8.54" height="4.43" fill="#363636"/>
<rect x="148.23" y="431.7" width="8.54" height="4.43" fill="#3c3c3c"/>
<rect x="156.72" y="431.7" width="8.54" height="4.43" fill="#424242"/>
<rect x="165.21" y="431.7" width="17.03" height="4.43" fill="#3c3c3c"/>
<rect x="182.19" y="431.7" width="8.54" height="4.43" fill="#363636"/>
<rect x="190.68" y="431.7" width="8.54" height="4.43" fill="#2a2a2a"/>
<rect x="199.17" y="431.7" width="8.54" height="4.43" fill="#242424"/>
<rect x="207.66" y="431.7" width="34.01" height="4.43" fill="#1e1e1e"/>
<rect x="241.62" y="431.7" width="17.03" height="4.43" fill="#181818"/>
<rect x="258.6" y="431.7" width="67.97" height="4.43" fill="#1e1e1e"/>
<rect x="351.99" y="431.7" width="8.54" height="4.43" fill="#1e1e1e"/>
<rect x="445.39" y="431.7" width="8.54" height="4.43" fill="#242424"/>
<rect x="453.88" y="431.7" width="8.54" height="4.43" fill="#3c3c3c"/>
<rect x="462.37" y="431.7" width="8.54" height="4.43" fill="#545454"/>
<rect x="470.86" y="431.7" width="8.54" height="4.43" fill="#5a5a5a"/>
<rect x="479.35" y="431.7" width="8.54" height="4.43" fill="#545454"/>
<rect x="487.84" y="431.7" width="8.54" height="4.43" fill="#424242"/>
<rect x="496.33" y="431.7" width="8.54" height="4.43" fill="#363636"/>
<rect x="504.82" y="431.7" width="8.54" height="4.43" fill="#2a2a2a"/>
<rect x="513.31" y="431.7" width="8.54" height="4.43" fill="#242424"/>
<rect x="521.8" y="431.7" width="8.54" height="4.43" fill="#181818"/>
<rect x="88.8" y="427.32" width="8.54" height="4.43" fill="#2a2a2a"/>
<rect x="97.29" y="427.32" width="17.03" height="4.43" fill="#303030"/>
<rect x="114.27" y="427.32" width="8.54" height="4.43" fill="#2a2a2a"/>
<rect x="122.76" y="427.32" width="17.03" height="4.43" fill="#303030"/>
<rect x="139.74" y="427.32" width="34.01" height="4.43" fill="#2a2a2a"/>
<rect x="173.7" y="427.32" width="8.54" height="4.43" fill="#242424"/>
<rect x="182.19" y="427.32" width="42.5" height="4.43" fill="#1e1e1e"/>
<rect x="292.56" y="427.32" width="25.52" height="4.43" fill="#242424"/>
<rect x="445.39" y="427.32" width="8.54" height="4.43" fill="#181818"/>
<rect x="453.88" y="427.32" width="8.54" height="4.43" fill="#2a2a2a"/>
<rect x="462.37" y="427.32" width="8.54" height="4.43" fill="#363636"/>
<rect x="470.86" y="427.32" width="8.54" height="4.43" fill="#3c3c3c"/>
<rect x="479.35" y="427.32" width="8.54" height="4.43" fill="#363636"/>
<rect x="487.84" y="427.32" width="8.54" height="4.43" fill="#2a2a2a"/>
<rect x="496.33" y="427.32" width="8.54" height="4.43" fill="#242424"/>
<rect x="504.82" y="427.32" width="8.54" height="4.43" fill="#1e1e1e"/>
<rect x="564.25" y="427.32" width="8.54" height="4.43" fill="#242424"/>
<rect x="572.74" y="427.32" width="8.54" height="4.43" fill="#303030"/>
<rect x="581.23" y="427.32" width="8.54" height="4.43" fill="#2a2a2a"/>
<rect x="589.72" y="427.32" width="8.54" height="4.43" fill="#242424"/>
<rect x="598.21" y="427.32" width="8.54" height="4.43" fill="#1e1e1e"/>
<rect x="88.8" y="422.94" width="8.54" height="4.43" fill="#242424"/>
<rect x="97.29" y="422.94" width="8.54" height="4.43" fill="#303030"/>
<rect x="105.78" y="422.94" width="8.54" height="4.43" fill="#363636"/>
<rect x="114.27" y="422.94" width="17.03" height="4.43" fill="#3c3c3c"/>
<rect x="131.25" y="422.94" width="8.54" height="4.43" fill="#303030"/>
<rect x="139.74" y="422.94" width="8.54" height="4.43" fill="#2a2a2a"/>
<rect x="148.23" y="422.94" width="67.97" height="4.43" fill="#1e1e1e"/>
<rect x="292.56" y="422.94" width="25.52" height="4.43" fill="#242424"/>
<rect x="326.52" y="422.94" width="8.54" height="4.43" fill="#242424"/>
<rect x="462.37" y="422.94" width="25.52" height="4.43" fill="#1e1e1e"/>
<rect x="555.76" y="422.94" width="8.54" height="4.43" fill="#1e1e1e"/>
<rect x="564.25" y="422.94" width="8.54" height="4.43" fill="#363636"/>
<rect x="572.74" y="422.94" width="8.54" height="4.43" fill="#4e4e4e"/>
<rect x="581.23" y="422.94" width="8.54" height="4.43" fill="#424242"/>
<rect x="589.72" y="422.94" width="8.54" height="4.43" fill="#303030"/>
<rect x="598.21" y="422.94" width="8.54" height="4.43" fill="#242424"/>
<rect x="606.7" y="422.94" width="8.54" height="4.43" fill="#181818"/>
<rect x="88.8" y="418.56" width="8.54" height="4.43" fill="#303030"/>
<rect x="97.29" y="418.56" width="8.54" height="4.43" fill="#3c3c3c"/>
<rect x="105.78" y="418.56" width="17.03" height="4.43" fill="#424242"/>
<rect x="122.76" y="418.56" width="8.54" height="4.43" fill="#3c3c3c"/>
<rect x="131.25" y="418.56" width="8.54" height="4.43" fill="#303030"/>
<rect x="139.74" y="418.56" width="8.54" height="4.43" fill="#242424"/>
<rect x="148.23" y="418.56" width="59.48" height="4.43" fill="#1e1e1e"/>
<rect x="292.56" y="418.56" width="25.52" height="4.43" fill="#242424"/>
<rect x="564.25" y="418.56" width="8.54" height="4.43" fill="#2a2a2a"/>
<rect x="572.74" y="418.56" width="8.54" height="4.43" fill="#424242"/>
<rect x="581.23" y="418.56" width="8.54" height="4.43" fill="#303030"/>
<rect x="589.72" y="418.56" width="8.54" height="4.43" fill="#181818"/>
<rect x="88.8" y="414.18" width="8.54" height="4.43" fill="#363636"/>
<rect x="97.29" y="414.18" width="8.54" height="4.43" fill="#3c3c3c"/>
<rect x="105.78" y="414.18" width="8.54" height="4.43" fill="#424242"/>
<rect x="114.27" y="414.18" width="8.54" height="4.43" fill="#3c3c3c"/>
<rect x="122.76" y="414.18" width="8.54" height="4.43" fill="#303030"/>
<rect x="131.25" y="414.18" width="8.54" height="4.43" fill="#242424"/>
<rect x="139.74" y="414.18" width="50.99" height="4.43" fill="#1e1e1e"/>
<rect x="216.15" y="414.18" width="8.54" height="4.43" fill="#1e1e1e"/>
<rect x="275.58" y="414.18" width="50.99" height="4.43" fill="#242424"/>
<rect x="572.74" y="414.18" width="8.54" height="4.43" fill="#2a2a2a"/>
<rect x="88.8" y="409.8" width="25.52" height="4.43" fill="#363636"/>
<rect x="114.27" y="409.8" width="8.54" height="4.43" fill="#2a2a2a"/>
<rect x="122.76" y="409.8" width="59.48" height="4.43" fill="#1e1e1e"/>
<rect x="275.58" y="409.8" width="8.54" height="4.43" fill="#242424"/>
<rect x="292.56" y="409.8" width="42.5" height="4.43" fill="#242424"/>
<rect x="572.74" y="409.8" width="8.54" height="4.43" fill="#1e1e1e"/>
<rect x="88.8" y="405.42" width="8.54" height="4.43" fill="#303030"/>
<rect x="97.29" y="405.42" width="8.54" height="4.43" fill="#2a2a2a"/>
<rect x="105.78" y="405.42" width="8.54" height="4.43" fill="#242424"/>
<rect x="114.27" y="405.42" width="59.48" height="4.43" fill="#1e1e1e"/>
<rect x="182.19" y="405.42" width="8.54" height="4.43" fill="#1e1e1e"/>
<rect x="292.56" y="405.42" width="8.54" height="4.43" fill="#242424"/>
<rect x="301.05" y="405.42" width="8.54" height="4.43" fill="#363636"/>
<rect x="309.54" y="405.42" width="34.01" height="4.43" fill="#242424"/>
<rect x="88.8" y="401.04" width="8.54" height="4.43" fill="#303030"/>
<rect x="97.29" y="401.04" width="67.97" height="4.43" fill="#1e1e1e"/>
<rect x="292.56" y="401.04" width="25.52" height="4.43" fill="#242424"/>
<rect x="326.52" y="401.04" width="17.03" height="4.43" fill="#242424"/>
<rect x="88.8" y="396.66" width="67.97" height="4.43" fill="#1e1e1e"/>
<rect x="88.8" y="392.28" width="8.54" height="4.43" fill="#303030"/>
<rect x="97.29" y="392.28" width="25.52" height="4.43" fill="#2a2a2a"/>
<rect x="122.76" y="392.28" width="17.03" height="4.43" fill="#242424"/>
<rect x="139.74" y="392.28" width="25.52" height="4.43" fill="#1e1e1e"/>
<rect x="165.21" y="392.28" width="8.54" height="4.43" fill="#181818"/>
<rect x="88.8" y="387.9" width="17.03" height="4.43" fill="#4e4e4e"/>
<rect x="105.78" y="387.9" width="17.03" height="4.43" fill="#484848"/>
<rect x="122.76" y="387.9" width="17.03" height="4.43" fill="#424242"/>
<rect x="139.74" y="387.9" width="17.03" height="4.43" fill="#3c3c3c"/>
<rect x="156.72" y="387.9" width="17.03" height="4.43" fill="#363636"/>
<rect x="173.7" y="387.9" width="8.54" height="4.43" fill="#303030"/>
<rect x="182.19" y="387.9" width="17.03" height="4.43" fill="#2a2a2a"/>
<rect x="199.17" y="387.9" width="8.54" height="4.43" fill="#242424"/>
<rect x="207.66" y="387.9" width="17.03" height="4.43" fill="#1e1e1e"/>
<rect x="88.8" y="383.52" width="8.54" height="4.43" fill="#7e7e7e"/>
<rect x="97.29" y="383.52" width="17.03" height="4.43" fill="#787878"/>
<rect x="114.27" y="383.52" width="8.54" height="4.43" fill="#727272"/>
<rect x="122.76" y="383.52" width="17.03" height="4.43" fill="#6c6c6c"/>
<rect x="139.74" y="383.52" width="8.54" height="4.43" fill="#666666"/>
<rect x="148.23" y="383.52" width="8.54" height="4.43" fill="#606060"/>
<rect x="156.72" y="383.52" width="17.03" height="4.43" fill="#5a5a5a"/>
<rect x="173.7" y="383.52" width="8.54" height="4.43" fill="#545454"/>
<rect x="182.19" y="383.52" width="8.54" height="4.43" fill="#4e4e4e"/>
<rect x="190.68" y="383.52" width="8.54" height="4.43" fill="#484848"/>
<rect x="199.17" y="383.52" width="17.03" height="4.43" fill="#424242"/>
<rect x="216.15" y="383.52" width="8.54" height="4.43" fill="#3c3c3c"/>
<rect x="224.64" y="383.52" width="8.54" height="4.43" fill="#363636"/>
<rect x="233.13" y="383.52" width="8.54" height="4.43" fill="#303030"/>
<rect x="241.62" y="383.52" width="8.54" height="4.43" fill="#2a2a2a"/>
<rect x="250.11" y="383.52" width="8.54" height="4.43" fill="#242424"/>
<rect x="258.6" y="383.52" width="17.03" height="4.43" fill="#1e1e1e"/>
<rect x="275.58" y="383.52" width="8.54" height="4.43" fill="#181818"/>
<rect x="88.8" y="379.14" width="17.03" height="4.43" fill="#a8a8a8"/>
<rect x="105.78" y="379.14" width="8.54" height="4.43" fill="#a2a2a2"/>
<rect x="114.27" y="379.14" width="17.03" height="4.43" fill="#9c9c9c"/>
<rect x="131.25" y="379.14" width="8.54" height="4.43" fill="#969696"/>
<rect x="139.74" y="379.14" width="8.54" height="4.43" fill="#909090"/>
<rect x="148.23" y="379.14" width="17.03" height="4.43" fill="#8a8a8a"/>
<rect x="165.21" y="379.14" width="8.54" height="4.43" fill="#848484"/>
<rect x="173.7" y="379.14" width="8.54" height="4.43" fill="#7e7e7e"/>
<rect x="182.19" y="379.14" width="8.54" height="4.43" fill="#787878"/>
<rect x="190.68" y="379.14" width="8.54" height="4.43" fill="#727272"/>
<rect x="199.17" y="379.14" width="8.54" height="4.43" fill="#6c6c6c"/>
<rect x="207.66" y="379.14" width="8.54" height="4.43" fill="#666666"/>
<rect x="216.15" y="379.14" width="8.54" height="4.43" fill="#606060"/>
<rect x="224.64" y="379.14" width="8.54" height="4.43" fill="#5a5a5a"/>
<rect x="233.13" y="379.14" width="8.54" height="4.43" fill="#545454"/>
<rect x="241.62" y="379.14" width="8.54" height="4.43" fill="#4e4e4e"/>
<rect x="250.11" y="379.14" width="8.54" height="4.43" fill="#484848"/>
<rect x="258.6" y="379.14" width="8.54" height="4.43" fill="#424242"/>
<rect x="267.09" y="379.14" width="8.54" height="4.43" fill="#3c3c3c"/>
<rect x="275.58" y="379.14" width="8.54" height="4.43" fill="#363636"/>
<rect x="284.07" y="379.14" width="17.03" height="4.43" fill="#303030"/>
<rect x="301.05" y="379.14" width="8.54" height="4.43" fill="#2a2a2a"/>
<rect x="309.54" y="379.14" width="8.54" height="4.43" fill="#242424"/>
<rect x="318.03" y="379.14" width="17.03" height="4.43" fill="#1e1e1e"/>
<rect x="683.11" y="379.14" width="8.54" height="4.43" fill="#1e1e1e"/>
<rect x="691.6" y="379.14" width="8.54" height="4.43" fill="#303030"/>
<rect x="700.09" y="379.14" width="8.54" height="4.43" fill="#3c3c3c"/>
<rect x="708.58" y="379.14" width="8.54" height="4.43" fill="#363636"/>
<rect x="717.07" y="379.14" width="8.54" height="4.43" fill="#242424"/>
<rect x="725.56" y="379.14" width="8.54" height="4.43" fill="#1e1e1e"/>
<rect x="88.8" y="374.76" width="17.03" height="4.43" fill="#cccccc"/>
<rect x="105.78" y="374.76" width="8.54" height="4.43" fill="#c6c6c6"/>
<rect x="114.27" y="374.76" width="8.54" height="4.43" fill="#c0c0c0"/>
<rect x="122.76" y="374.76" width="17.03" height="4.43" fill="#bababa"/>
<rect x="139.74" y="374.76" width="8.54" height="4.43" fill="#b4b4b4"/>
<rect x="148.23" y="374.76" width="8.54" height="4.43" fill="#aeaeae"/>
<rect x="156.72" y="374.76" width="8.54" height="4.43" fill="#a8a8a8"/>
<rect x="165.21" y="374.76" width="17.03" height="4.43" fill="#a2a2a2"/>
<rect x="182.19" y="374.76" width="8.54" height="4.43" fill="#9c9c9c"/>
<rect x="190.68" y="374.76" width="8.54" height="4.43" fill="#969696"/>
<rect x="199.17" y="374.76" width="8.54" height="4.43" fill="#909090"/>
<rect x="207.66" y="374.76" width="8.54" height="4.43" fill="#8a8a8a"/>
<rect x="216.15" y="374.76" width="8.54" height="4.43" fill="#848484"/>
<rect x="224.64" y="374.76" width="8.54" height="4.43" fill="#7e7e7e"/>
<rect x="233.13" y="374.76" width="8.54" height="4.43" fill="#787878"/>
<rect x="241.62" y="374.76" width="8.54" height="4.43" fill="#6c6c6c"/>
<rect x="250.11" y="374.76" width="8.54" height="4.43" fill="#666666"/>
<rect x="258.6" y="374.76" width="8.54" height="4.43" fill="#606060"/>
<rect x="267.09" y="374.76" width="17.03" height="4.43" fill="#5a5a5a"/>
<rect x="284.07" y="374.76" width="8.54" height="4.43" fill="#545454"/>
<rect x="292.56" y="374.76" width="17.03" height="4.43" fill="#4e4e4e"/>
<rect x="309.54" y="374.76" width="8.54" height="4.43" fill="#484848"/>
<rect x="318.03" y="374.76" width="8.54" height="4.43" fill="#424242"/>
<rect x="326.52" y="374.76" width="8.54" height="4.43" fill="#3c3c3c"/>
<rect x="335.01" y="374.76" width="8.54" height="4.43" fill="#363636"/>
<rect x="343.5" y="374.76" width="8.54" height="4.43" fill="#2a2a2a"/>
<rect x="351.99" y="374.76" width="8.54" height="4.43" fill="#242424"/>
<rect x="360.48" y="374.76" width="8.54" height="4.43" fill="#1e1e1e"/>
<rect x="368.97" y="374.76" width="8.54" height="4.43" fill="#181818"/>
<rect x="394.44" y="374.76" width="50.99" height="4.43" fill="#1e1e1e"/>
<rect x="453.88" y="374.76" width="8.54" height="4.43" fill="#1e1e1e"/>
<rect x="521.8" y="374.76" width="8.54" height="4.43" fill="#1e1e1e"/>
<rect x="683.11" y="374.76" width="8.54" height="4.43" fill="#1e1e1e"/>
<rect x="691.6" y="374.76" width="8.54" height="4.43" fill="#3c3c3c"/>
<rect x="700.09" y="374.76" width="8.54" height="4.43" fill="#4e4e4e"/>
<rect x="708.58" y="374.76" width="8.54" height="4.43" fill="#484848"/>
<rect x="717.07" y="374.76" width="8.54" height="4.43" fill="#3c3c3c"/>
<rect x="725.56" y="374.76" width="8.54" height="4.43" fill="#303030"/>
<rect x="734.05" y="374.76" width="8.54" height="4.43" fill="#2a2a2a"/>
<rect x="742.54" y="374.76" width="8.54" height="4.43" fill="#242424"/>
<rect x="751.03" y="374.76" width="8.54" height="4.43" fill="#1e1e1e"/>
<rect x="88.8" y="370.38" width="17.03" height="4.43" fill="#d8d8d8"/>
<rect x="105.78" y="370.38" width="8.54" height="4.43" fill="#d2d2d2"/>
<rect x="114.27" y="370.38" width="17.03" height="4.43" fill="#cccccc"/>
<rect x="131.25" y="370.38" width="8.54" height="4.43" fill="#c6c6c6"/>
<rect x="139.74" y="370.38" width="8.54" height="4.43" fill="#c0c0c0"/>
<rect x="148.23" y="370.38" width="8.54" height="4.43" fill="#bababa"/>
<rect x="156.72" y="370.38" width="17.03" height="4.43" fill="#b4b4b4"/>
<rect x="173.7" y="370.38" width="8.54" height="4.43" fill="#aeaeae"/>
<rect x="182.19" y="370.38" width="8.54" height="4.43" fill="#a8a8a8"/>
<rect x="190.68" y="370.38" width="8.54" height="4.43" fill="#a2a2a2"/>
<rect x="199.17" y="370.38" width="8.54" height="4.43" fill="#9c9c9c"/>
<rect x="207.66" y="370.38" width="17.03" height="4.43" fill="#969696"/>
<rect x="224.64" y="370.38" width="8.54" height="4.43" fill="#8a8a8a"/>
<rect x="233.13" y="370.38" width="8.54" height="4.43" fill="#848484"/>
<rect x="241.62" y="370.38" width="8.54" height="4.43" fill="#7e7e7e"/>
<rect x="250.11" y="370.38" width="8.54" height="4.43" fill="#787878"/>
<rect x="258.6" y="370.38" width="17.03" height="4.43" fill="#6c6c6c"/>
<rect x="275.58" y="370.38" width="17.03" height="4.43" fill="#666666"/>
<rect x="292.56" y="370.38" width="8.54" height="4.43" fill="#606060"/>
<rect x="301.05" y="370.38" width="8.54" height="4.43" fill="#5a5a5a"/>
<rect x="309.54" y="370.38" width="17.03" height="4.43" fill="#545454"/>
<rect x="326.52" y="370.38" width="8.54" height="4.43" fill="#4e4e4e"/>
<rect x="335.01" y="370.38" width="8.54" height="4.43" fill="#424242"/>
<rect x="343.5" y="370.38" width="8.54" height="4.43" fill="#3c3c3c"/>
<rect x="351.99" y="370.38" width="8.54" height="4.43" fill="#363636"/>
<rect x="360.48" y="370.38" width="8.54" height="4.43" fill="#303030"/>
<rect x="368.97" y="370.38" width="8.54" height="4.43" fill="#2a2a2a"/>
<rect x="377.46" y="370.38" width="8.54" height="4.43" fill="#242424"/>
<rect x="385.95" y="370.38" width="93.44" height="4.43" fill="#1e1e1e"/>
<rect x="504.82" y="370.38" width="84.95" height="4.43" fill="#1e1e1e"/>
<rect x="691.6" y="370.38" width="8.54" height="4.43" fill="#1e1e1e"/>
<rect x="700.09" y="370.38" width="8.54" height="4.43" fill="#2a2a2a"/>
<rect x="708.58" y="370.38" width="8.54" height="4.43" fill="#242424"/>
<rect x="97.29" y="366" width="8.54" height="4.43" fill="#d8d8d8"/>
<rect x="105.78" y="366" width="8.54" height="4.43" fill="#d2d2d2"/>
<rect x="114.27" y="366" width="17.03" height="4.43" fill="#cccccc"/>
<rect x="131.25" y="366" width="8.54" height="4.43" fill="#c6c6c6"/>
<rect x="139.74" y="366" width="8.54" height="4.43" fill="#c0c0c0"/>
<rect x="148.23" y="366" width="8.54" height="4.43" fill="#bababa"/>
<rect x="156.72" y="366" width="17.03" height="4.43" fill="#b4b4b4"/>
<rect x="173.7" y="366" width="8.54" height="4.43" fill="#aeaeae"/>
<rect x="182.19" y="366" width="8.54" height="4.43" fill="#a8a8a8"/>
<rect x="190.68" y="366" width="8.54" height="4.43" fill="#a2a2a2"/>
<rect x="199.17" y="366" width="8.54" height="4.43" fill="#9c9c9c"/>
<rect x="207.66" y="366" width="17.03" height="4.43" fill="#969696"/>
<rect x="224.64" y="366" width="8.54" height="4.43" fill="#8a8a8a"/>
<rect x="233.13" y="366" width="8.54" height="4.43" fill="#848484"/>
<rect x="241.62" y="366" width="8.54" height="4.43" fill="#7e7e7e"/>
<rect x="250.11" y="366" width="8.54" height="4.43" fill="#787878"/>
<rect x="258.6" y="366" width="17.03" height="4.43" fill="#6c6c6c"/>
<rect x="275.58" y="366" width="17.03" height="4.43" fill="#666666"/>
<rect x="292.56" y="366" width="8.54" height="4.43" fill="#606060"/>
<rect x="301.05" y="366" width="8.54" height="4.43" fill="#5a5a5a"/>
<rect x="309.54" y="366" width="17.03" height="4.43" fill="#545454"/>
<rect x="326.52" y="366" width="8.54" height="4.43" fill="#4e4e4e"/>
<rect x="335.01" y="366" width="8.54" height="4.43" fill="#424242"/>
<rect x="343.5" y="366" width="8.54" height="4.43" fill="#3c3c3c"/>
<rect x="351.99" y="366" width="8.54" height="4.43" fill="#363636"/>
<rect x="360.48" y="366" width="8.54" height="4.43" fill="#303030"/>
<rect x="368.97" y="366" width="8.54" height="4.43" fill="#2a2a2a"/>
<rect x="377.46" y="366" width="8.54" height="4.43" fill="#242424"/>
<rect x="385.95" y="366" width="93.44" height="4.43" fill="#1e1e1e"/>
<rect x="504.82" y="366" width="84.95" height="4.43" fill="#1e1e1e"/>
</g>
</defs>
<g transform="translate(0,0)">
<text x="103.6" y="21.9" font-family='"Liberation Serif", "DejaVu Serif", serif' font-size="22.5" fill="#1c1c28" textLength="598.5" lengthAdjust="spacing">Long Exposure (133.24 sec for N3, 147.27 sec for other filters)</text>
<text x="423.5" y="60.2" text-anchor="middle" font-family='"DejaVu Sans", "Liberation Sans", sans-serif' font-size="24.4" fill="#000">2200063.72</text>
<path d="M639.5 73 V269.2" stroke="#2c93fb" stroke-width="1" stroke-dasharray="7.3 6.7" stroke-dashoffset="5.3" fill="none" shape-rendering="crispEdges"/>
<path d="M90.1 264.4h8M759.2 264.4h-8" stroke="#000" stroke-width="3" fill="none"/>
<path d="M90.1 217.4h8M759.2 217.4h-8" stroke="#000" stroke-width="3" fill="none"/>
<path d="M90.1 170.4h8M759.2 170.4h-8" stroke="#000" stroke-width="3" fill="none"/>
<path d="M90.1 123.4h8M759.2 123.4h-8" stroke="#000" stroke-width="3" fill="none"/>
<path d="M90.1 76.4h8M759.2 76.4h-8" stroke="#000" stroke-width="3" fill="none"/>
<path d="M90.1 259.7h4.3M759.2 259.7h-4.3M90.1 255h4.3M759.2 255h-4.3M90.1 250.3h4.3M759.2 250.3h-4.3M90.1 245.6h4.3M759.2 245.6h-4.3M90.1 240.9h4.3M759.2 240.9h-4.3M90.1 236.2h4.3M759.2 236.2h-4.3M90.1 231.5h4.3M759.2 231.5h-4.3M90.1 226.8h4.3M759.2 226.8h-4.3M90.1 222.1h4.3M759.2 222.1h-4.3M90.1 212.7h4.3M759.2 212.7h-4.3M90.1 208h4.3M759.2 208h-4.3M90.1 203.3h4.3M759.2 203.3h-4.3M90.1 198.6h4.3M759.2 198.6h-4.3M90.1 193.9h4.3M759.2 193.9h-4.3M90.1 189.2h4.3M759.2 189.2h-4.3M90.1 184.5h4.3M759.2 184.5h-4.3M90.1 179.8h4.3M759.2 179.8h-4.3M90.1 175.1h4.3M759.2 175.1h-4.3M90.1 165.7h4.3M759.2 165.7h-4.3M90.1 161h4.3M759.2 161h-4.3M90.1 156.3h4.3M759.2 156.3h-4.3M90.1 151.6h4.3M759.2 151.6h-4.3M90.1 146.9h4.3M759.2 146.9h-4.3M90.1 142.2h4.3M759.2 142.2h-4.3M90.1 137.5h4.3M759.2 137.5h-4.3M90.1 132.8h4.3M759.2 132.8h-4.3M90.1 128.1h4.3M759.2 128.1h-4.3M90.1 118.7h4.3M759.2 118.7h-4.3M90.1 114h4.3M759.2 114h-4.3M90.1 109.3h4.3M759.2 109.3h-4.3M90.1 104.6h4.3M759.2 104.6h-4.3M90.1 99.9h4.3M759.2 99.9h-4.3M90.1 95.2h4.3M759.2 95.2h-4.3M90.1 90.5h4.3M759.2 90.5h-4.3M90.1 85.8h4.3M759.2 85.8h-4.3M90.1 81.1h4.3M759.2 81.1h-4.3" stroke="#000" stroke-width="2.7" fill="none" shape-rendering="crispEdges"/>
<path d="M88.8 72.9v4.2M88.8 267.9v-4.2M115.67 72.9v1.3M115.67 267.9v-1.3M142.54 72.9v1.3M142.54 267.9v-1.3M169.4 72.9v1.3M169.4 267.9v-1.3M196.27 72.9v1.3M196.27 267.9v-1.3M223.14 72.9v4.2M223.14 267.9v-4.2M250.01 72.9v1.3M250.01 267.9v-1.3M276.88 72.9v1.3M276.88 267.9v-1.3M303.74 72.9v1.3M303.74 267.9v-1.3M330.61 72.9v1.3M330.61 267.9v-1.3M357.48 72.9v4.2M357.48 267.9v-4.2M384.35 72.9v1.3M384.35 267.9v-1.3M411.22 72.9v1.3M411.22 267.9v-1.3M438.08 72.9v1.3M438.08 267.9v-1.3M464.95 72.9v1.3M464.95 267.9v-1.3M491.82 72.9v4.2M491.82 267.9v-4.2M518.69 72.9v1.3M518.69 267.9v-1.3M545.56 72.9v1.3M545.56 267.9v-1.3M572.42 72.9v1.3M572.42 267.9v-1.3M599.29 72.9v1.3M599.29 267.9v-1.3M626.16 72.9v4.2M626.16 267.9v-4.2M653.03 72.9v1.3M653.03 267.9v-1.3M679.9 72.9v1.3M679.9 267.9v-1.3M706.76 72.9v1.3M706.76 267.9v-1.3M733.63 72.9v1.3M733.63 267.9v-1.3M760.5 72.9v4.2M760.5 267.9v-4.2" stroke="#000" stroke-width="3" fill="none"/>
<path d="M92.2 110 L120.6 120.3 L146.3 123.5 L170.7 120.6 L193.4 122.2 L214.5 130.7 L235.2 145.8 L254.2 146.3 L272.6 136.9 L290.4 120.6 L307.5 112.5 L323.7 107.6 L339.7 110.5 L355.7 109.6 L370.3 112.5 L384.4 111.2 L399.5 113.6 L413.7 114.6 L426.7 115.4 L440.5 116.6 L453.5 117.4 L466.5 120.6 L478.7 123.5 L491.4 127.6 L503.5 130.4 L515.6 135.6 L526.6 139.3 L538.5 142.2 L549.4 145.8 L560.4 149.1 L571.6 152.3 L582.7 264.4 L592.8 264.4 L602.9 264.4 L613 264.4 L623.1 264.4 L633.2 264.4 L643.3 264.4 L653.4 264.4 L663.5 264.4 L673.6 264.4 L683.7 264.4 L693.8 264.4 L703.9 264.4 L714 264.4 L724.1 264.4 L734.2 264.4 L744.3 264.4 L754.4 264.4" stroke="#000" stroke-width="3.1" fill="none" stroke-linejoin="miter"/>
<path d="M87.7 105.5h9v9h-9zM116.1 115.8h9v9h-9zM141.8 119h9v9h-9zM166.2 116.1h9v9h-9zM188.9 117.7h9v9h-9zM210 126.2h9v9h-9zM230.7 141.3h9v9h-9zM249.7 141.8h9v9h-9zM268.1 132.4h9v9h-9zM285.9 116.1h9v9h-9zM303 108h9v9h-9zM319.2 103.1h9v9h-9zM335.2 106h9v9h-9zM351.2 105.1h9v9h-9zM365.8 108h9v9h-9zM379.9 106.7h9v9h-9zM395 109.1h9v9h-9zM409.2 110.1h9v9h-9zM422.2 110.9h9v9h-9zM436 112.1h9v9h-9zM449 112.9h9v9h-9zM462 116.1h9v9h-9zM474.2 119h9v9h-9zM486.9 123.1h9v9h-9zM499 125.9h9v9h-9zM511.1 131.1h9v9h-9zM522.1 134.8h9v9h-9zM534 137.7h9v9h-9zM544.9 141.3h9v9h-9zM555.9 144.6h9v9h-9zM567.1 147.8h9v9h-9z" fill="#000"/>
<rect x="578.2" y="259.9" width="182.3" height="8.9" fill="#000"/>
<path d="M587.9 266.2v1.8M609.3 266.2v1.8M619.3 266.2v1.8M629.6 266.2v1.8M649.3 266.2v1.8M659.3 266.2v1.8M697.1 266.2v1.8" stroke="#fff" stroke-width="1.3" fill="none"/>
<rect x="88.8" y="71.6" width="671.7" height="197.6" fill="none" stroke="#000" stroke-width="3"/>
<path d="M92.2 84.5V112.5M89.7 84.5h5M89.7 112.5h5M120.6 91.4V139.3M118.1 91.4h5M118.1 139.3h5M146.3 97.4V145.3M143.8 97.4h5M143.8 145.3h5M170.7 103.6V142.2M168.2 103.6h5M168.2 142.2h5M193.4 111.4V139.3M190.9 111.4h5M190.9 139.3h5M214.5 122.6V140.4M212 122.6h5M212 140.4h5M235.2 135.6V153.4M232.7 135.6h5M232.7 153.4h5M254.2 134.4V155.2M251.7 134.4h5M251.7 155.2h5M272.6 126.6V150.4M270.1 126.6h5M270.1 150.4h5M290.4 110.4V131.5M287.9 110.4h5M287.9 131.5h5M307.5 103.6V122.6M305 103.6h5M305 122.6h5M323.7 105.2V116.6M321.2 105.2h5M321.2 116.6h5M339.7 107.1V113.9M337.7 107.1h4M337.7 113.9h4M355.7 107.2V112M353.7 107.2h4M353.7 112h4M370.3 109.6V115.4M368.3 109.6h4M368.3 115.4h4M384.4 108.8V113.6M382.4 108.8h4M382.4 113.6h4M399.5 111.6V115.6M397.5 111.6h4M397.5 115.6h4M413.7 113V116.2M411.7 113h4M411.7 116.2h4M426.7 114.3V116.5M424.7 114.3h4M424.7 116.5h4M440.5 115.5V117.7M438.5 115.5h4M438.5 117.7h4M453.5 116.1V118.7M451.5 116.1h4M451.5 118.7h4M466.5 118.2V123M464.5 118.2h4M464.5 123h4M478.7 121.1V125.9M476.7 121.1h4M476.7 125.9h4M491.4 126V129.2M489.4 126h4M489.4 129.2h4M503.5 128.4V132.4M501.5 128.4h4M501.5 132.4h4M515.6 133.2V138M513.6 133.2h4M513.6 138h4M526.6 136.9V141.7M524.6 136.9h4M524.6 141.7h4M538.5 139V145.4M536.5 139h4M536.5 145.4h4M549.4 143.4V148.2M547.4 143.4h4M547.4 148.2h4M560.4 146.7V151.5M558.4 146.7h4M558.4 151.5h4M571.6 148.7V155.9M569.6 148.7h4M569.6 155.9h4" stroke="#ff0000" stroke-width="1.1" fill="none" shape-rendering="crispEdges"/>
<path d="M581 264.6H759" stroke="#ff0000" stroke-width="1.2" stroke-dasharray="3.7 4.4" fill="none"/>
<path d="M639.5 262.5V270.2" stroke="#2a8ff5" stroke-width="1" fill="none" shape-rendering="crispEdges"/>
<g font-family='"DejaVu Sans", "Liberation Sans", sans-serif' font-size="20" fill="#000">
<text x="81" y="270" text-anchor="end">0</text>
<text x="81" y="225.6" text-anchor="end">10</text>
<text x="81" y="178.6" text-anchor="end">20</text>
<text x="81" y="131.6" text-anchor="end">30</text>
<text x="81" y="84.6" text-anchor="end">40</text>
<text x="87.6" y="300" text-anchor="middle">2.5</text>
<text x="221.94" y="300" text-anchor="middle">3.0</text>
<text x="356.28" y="300" text-anchor="middle">3.5</text>
<text x="490.62" y="300" text-anchor="middle">4.0</text>
<text x="624.96" y="300" text-anchor="middle">4.5</text>
<text x="759.3" y="300" text-anchor="middle">5.0</text>
<text x="423.6" y="325.8" text-anchor="middle" letter-spacing="0.1">Lambda [um]</text>
<text transform="translate(37.6 170.6) rotate(-90)" text-anchor="middle" textLength="102" lengthAdjust="spacing">Flux [mJy]</text>
</g>
</g>
<g transform="translate(800,0)">
<text x="112.6" y="21.9" font-family='"Liberation Serif", "DejaVu Serif", serif' font-size="22.5" fill="#1c1c28" textLength="566.5" lengthAdjust="spacing">Short Exposure (14.03 sec for N3, 1.75 sec for other filters)</text>
<text x="423.5" y="60.2" text-anchor="middle" font-family='"DejaVu Sans", "Liberation Sans", sans-serif' font-size="24.4" fill="#000">2200063.72</text>
<path d="M639.5 73 V269.2" stroke="#2c93fb" stroke-width="1" stroke-dasharray="7.3 6.7" stroke-dashoffset="5.3" fill="none" shape-rendering="crispEdges"/>
<path d="M90.1 264.4h8M759.2 264.4h-8" stroke="#000" stroke-width="3" fill="none"/>
<path d="M90.1 217.4h8M759.2 217.4h-8" stroke="#000" stroke-width="3" fill="none"/>
<path d="M90.1 170.4h8M759.2 170.4h-8" stroke="#000" stroke-width="3" fill="none"/>
<path d="M90.1 123.4h8M759.2 123.4h-8" stroke="#000" stroke-width="3" fill="none"/>
<path d="M90.1 76.4h8M759.2 76.4h-8" stroke="#000" stroke-width="3" fill="none"/>
<path d="M90.1 259.7h4.3M759.2 259.7h-4.3M90.1 255h4.3M759.2 255h-4.3M90.1 250.3h4.3M759.2 250.3h-4.3M90.1 245.6h4.3M759.2 245.6h-4.3M90.1 240.9h4.3M759.2 240.9h-4.3M90.1 236.2h4.3M759.2 236.2h-4.3M90.1 231.5h4.3M759.2 231.5h-4.3M90.1 226.8h4.3M759.2 226.8h-4.3M90.1 222.1h4.3M759.2 222.1h-4.3M90.1 212.7h4.3M759.2 212.7h-4.3M90.1 208h4.3M759.2 208h-4.3M90.1 203.3h4.3M759.2 203.3h-4.3M90.1 198.6h4.3M759.2 198.6h-4.3M90.1 193.9h4.3M759.2 193.9h-4.3M90.1 189.2h4.3M759.2 189.2h-4.3M90.1 184.5h4.3M759.2 184.5h-4.3M90.1 179.8h4.3M759.2 179.8h-4.3M90.1 175.1h4.3M759.2 175.1h-4.3M90.1 165.7h4.3M759.2 165.7h-4.3M90.1 161h4.3M759.2 161h-4.3M90.1 156.3h4.3M759.2 156.3h-4.3M90.1 151.6h4.3M759.2 151.6h-4.3M90.1 146.9h4.3M759.2 146.9h-4.3M90.1 142.2h4.3M759.2 142.2h-4.3M90.1 137.5h4.3M759.2 137.5h-4.3M90.1 132.8h4.3M759.2 132.8h-4.3M90.1 128.1h4.3M759.2 128.1h-4.3M90.1 118.7h4.3M759.2 118.7h-4.3M90.1 114h4.3M759.2 114h-4.3M90.1 109.3h4.3M759.2 109.3h-4.3M90.1 104.6h4.3M759.2 104.6h-4.3M90.1 99.9h4.3M759.2 99.9h-4.3M90.1 95.2h4.3M759.2 95.2h-4.3M90.1 90.5h4.3M759.2 90.5h-4.3M90.1 85.8h4.3M759.2 85.8h-4.3M90.1 81.1h4.3M759.2 81.1h-4.3" stroke="#000" stroke-width="2.7" fill="none" shape-rendering="crispEdges"/>
<path d="M88.8 72.9v4.2M88.8 267.9v-4.2M115.67 72.9v1.3M115.67 267.9v-1.3M142.54 72.9v1.3M142.54 267.9v-1.3M169.4 72.9v1.3M169.4 267.9v-1.3M196.27 72.9v1.3M196.27 267.9v-1.3M223.14 72.9v4.2M223.14 267.9v-4.2M250.01 72.9v1.3M250.01 267.9v-1.3M276.88 72.9v1.3M276.88 267.9v-1.3M303.74 72.9v1.3M303.74 267.9v-1.3M330.61 72.9v1.3M330.61 267.9v-1.3M357.48 72.9v4.2M357.48 267.9v-4.2M384.35 72.9v1.3M384.35 267.9v-1.3M411.22 72.9v1.3M411.22 267.9v-1.3M438.08 72.9v1.3M438.08 267.9v-1.3M464.95 72.9v1.3M464.95 267.9v-1.3M491.82 72.9v4.2M491.82 267.9v-4.2M518.69 72.9v1.3M518.69 267.9v-1.3M545.56 72.9v1.3M545.56 267.9v-1.3M572.42 72.9v1.3M572.42 267.9v-1.3M599.29 72.9v1.3M599.29 267.9v-1.3M626.16 72.9v4.2M626.16 267.9v-4.2M653.03 72.9v1.3M653.03 267.9v-1.3M679.9 72.9v1.3M679.9 267.9v-1.3M706.76 72.9v1.3M706.76 267.9v-1.3M733.63 72.9v1.3M733.63 267.9v-1.3M760.5 72.9v4.2M760.5 267.9v-4.2" stroke="#000" stroke-width="3" fill="none"/>
<path d="M92.2 134.8 L120.6 143.7 L146.3 144.2 L170.7 141.7 L193.4 144.2 L214.5 149.5 L235.2 159.1 L254.2 156.4 L272.6 148.2 L290.4 130.7 L307.5 120.3 L323.7 115.7 L339.7 119 L355.7 123.5 L370.3 128.3 L384.4 127.6 L399.5 126.6 L413.7 126.3 L426.7 126.6 L440.5 127.6 L453.5 128.4 L466.5 133.3 L478.7 137.2 L491.4 143.4 L503.5 146.1 L515.6 149.4 L526.6 151 L538.5 156 L549.4 159.3 L560.4 161.6 L571.6 164.2 L582.7 264.4 L592.8 264.4 L602.9 264.4 L613 264.4 L623.1 264.4 L633.2 264.4 L643.3 264.4 L653.4 264.4 L663.5 264.4 L673.6 264.4 L683.7 264.4 L693.8 264.4 L703.9 264.4 L714 264.4 L724.1 264.4 L734.2 264.4 L744.3 264.4 L754.4 264.4" stroke="#000" stroke-width="3.1" fill="none" stroke-linejoin="miter"/>
<path d="M87.7 130.3h9v9h-9zM116.1 139.2h9v9h-9zM141.8 139.7h9v9h-9zM166.2 137.2h9v9h-9zM188.9 139.7h9v9h-9zM210 145h9v9h-9zM230.7 154.6h9v9h-9zM249.7 151.9h9v9h-9zM268.1 143.7h9v9h-9zM285.9 126.2h9v9h-9zM303 115.8h9v9h-9zM319.2 111.2h9v9h-9zM335.2 114.5h9v9h-9zM351.2 119h9v9h-9zM365.8 123.8h9v9h-9zM379.9 123.1h9v9h-9zM395 122.1h9v9h-9zM409.2 121.8h9v9h-9zM422.2 122.1h9v9h-9zM436 123.1h9v9h-9zM449 123.9h9v9h-9zM462 128.8h9v9h-9zM474.2 132.7h9v9h-9zM486.9 138.9h9v9h-9zM499 141.6h9v9h-9zM511.1 144.9h9v9h-9zM522.1 146.5h9v9h-9zM534 151.5h9v9h-9zM544.9 154.8h9v9h-9zM555.9 157.1h9v9h-9zM567.1 159.7h9v9h-9z" fill="#000"/>
<rect x="578.2" y="259.9" width="182.3" height="8.9" fill="#000"/>
<path d="M587.9 266.2v1.8M609.3 266.2v1.8M619.3 266.2v1.8M629.6 266.2v1.8M649.3 266.2v1.8M659.3 266.2v1.8M697.1 266.2v1.8" stroke="#fff" stroke-width="1.3" fill="none"/>
<rect x="88.8" y="71.6" width="671.7" height="197.6" fill="none" stroke="#000" stroke-width="3"/>
<path d="M92.2 115.4V137.2M89.7 115.4h5M89.7 137.2h5M120.6 119.3V160.1M118.1 119.3h5M118.1 160.1h5M146.3 121.4V162.4M143.8 121.4h5M143.8 162.4h5M170.7 126.6V160.1M168.2 126.6h5M168.2 160.1h5M193.4 134.4V157.2M190.9 134.4h5M190.9 157.2h5M214.5 142.6V157.2M212 142.6h5M212 157.2h5M235.2 150.4V166.1M232.7 150.4h5M232.7 166.1h5M254.2 145.3V164.2M251.7 145.3h5M251.7 164.2h5M272.6 138.2V160.1M270.1 138.2h5M270.1 160.1h5M290.4 121.4V141.4M287.9 121.4h5M287.9 141.4h5M307.5 113.3V130.4M305 113.3h5M305 130.4h5M323.7 112.5V123.4M321.2 112.5h5M321.2 123.4h5M339.7 116V122M337.7 116h4M337.7 122h4M355.7 121.1V125.9M353.7 121.1h4M353.7 125.9h4M370.3 125.9V130.7M368.3 125.9h4M368.3 130.7h4M384.4 125.2V130M382.4 125.2h4M382.4 130h4M399.5 124.2V129M397.5 124.2h4M397.5 129h4M413.7 123.5V129.1M411.7 123.5h4M411.7 129.1h4M426.7 124.2V129M424.7 124.2h4M424.7 129h4M440.5 125.6V129.6M438.5 125.6h4M438.5 129.6h4M453.5 126V130.8M451.5 126h4M451.5 130.8h4M466.5 130.3V136.3M464.5 130.3h4M464.5 136.3h4M478.7 134.4V140M476.7 134.4h4M476.7 140h4M491.4 141.4V145.4M489.4 141.4h4M489.4 145.4h4M503.5 143.7V148.5M501.5 143.7h4M501.5 148.5h4M515.6 147V151.8M513.6 147h4M513.6 151.8h4M526.6 148.2V153.8M524.6 148.2h4M524.6 153.8h4M538.5 152.6V159.4M536.5 152.6h4M536.5 159.4h4M549.4 156.5V162.1M547.4 156.5h4M547.4 162.1h4M560.4 158.8V164.4M558.4 158.8h4M558.4 164.4h4M571.6 160.6V167.8M569.6 160.6h4M569.6 167.8h4" stroke="#ff0000" stroke-width="1.1" fill="none" shape-rendering="crispEdges"/>
<path d="M581 264.6H759" stroke="#ff0000" stroke-width="1.2" stroke-dasharray="3.7 4.4" fill="none"/>
<path d="M639.5 262.5V270.2" stroke="#2a8ff5" stroke-width="1" fill="none" shape-rendering="crispEdges"/>
<g font-family='"DejaVu Sans", "Liberation Sans", sans-serif' font-size="20" fill="#000">
<text x="81" y="270" text-anchor="end">0</text>
<text x="81" y="225.6" text-anchor="end">10</text>
<text x="81" y="178.6" text-anchor="end">20</text>
<text x="81" y="131.6" text-anchor="end">30</text>
<text x="81" y="84.6" text-anchor="end">40</text>
<text x="87.6" y="300" text-anchor="middle">2.5</text>
<text x="221.94" y="300" text-anchor="middle">3.0</text>
<text x="356.28" y="300" text-anchor="middle">3.5</text>
<text x="490.62" y="300" text-anchor="middle">4.0</text>
<text x="624.96" y="300" text-anchor="middle">4.5</text>
<text x="759.3" y="300" text-anchor="middle">5.0</text>
<text x="423.6" y="325.8" text-anchor="middle" letter-spacing="0.1">Lambda [um]</text>
<text transform="translate(37.6 170.6) rotate(-90)" text-anchor="middle" textLength="102" lengthAdjust="spacing">Flux [mJy]</text>
</g>
</g>
<g transform="translate(0,0)">
<use href="#spec"/>
<path d="M97.29 367.4v4.4M97.29 561.7v-4.4M105.78 367.4v4.4M105.78 561.7v-4.4M114.27 367.4v4.4M114.27 561.7v-4.4M122.76 367.4v4.4M122.76 561.7v-4.4M131.25 367.4v4.4M131.25 561.7v-4.4M139.74 367.4v4.4M139.74 561.7v-4.4M148.23 367.4v4.4M148.23 561.7v-4.4M156.72 367.4v4.4M156.72 561.7v-4.4M165.21 367.4v4.4M165.21 561.7v-4.4M182.19 367.4v4.4M182.19 561.7v-4.4M190.68 367.4v4.4M190.68 561.7v-4.4M199.17 367.4v4.4M199.17 561.7v-4.4M207.66 367.4v4.4M207.66 561.7v-4.4M216.15 367.4v4.4M216.15 561.7v-4.4M224.64 367.4v4.4M224.64 561.7v-4.4M233.13 367.4v4.4M233.13 561.7v-4.4M241.62 367.4v4.4M241.62 561.7v-4.4M250.11 367.4v4.4M250.11 561.7v-4.4M267.09 367.4v4.4M267.09 561.7v-4.4M275.58 367.4v4.4M275.58 561.7v-4.4M284.07 367.4v4.4M284.07 561.7v-4.4M292.56 367.4v4.4M292.56 561.7v-4.4M301.05 367.4v4.4M301.05 561.7v-4.4M309.54 367.4v4.4M309.54 561.7v-4.4M318.03 367.4v4.4M318.03 561.7v-4.4M326.52 367.4v4.4M326.52 561.7v-4.4M335.01 367.4v4.4M335.01 561.7v-4.4M351.99 367.4v4.4M351.99 561.7v-4.4M360.48 367.4v4.4M360.48 561.7v-4.4M368.97 367.4v4.4M368.97 561.7v-4.4M377.46 367.4v4.4M377.46 561.7v-4.4M385.95 367.4v4.4M385.95 561.7v-4.4M394.44 367.4v4.4M394.44 561.7v-4.4M402.93 367.4v4.4M402.93 561.7v-4.4M411.42 367.4v4.4M411.42 561.7v-4.4M419.91 367.4v4.4M419.91 561.7v-4.4M436.9 367.4v4.4M436.9 561.7v-4.4M445.39 367.4v4.4M445.39 561.7v-4.4M453.88 367.4v4.4M453.88 561.7v-4.4M462.37 367.4v4.4M462.37 561.7v-4.4M470.86 367.4v4.4M470.86 561.7v-4.4M479.35 367.4v4.4M479.35 561.7v-4.4M487.84 367.4v4.4M487.84 561.7v-4.4M496.33 367.4v4.4M496.33 561.7v-4.4M504.82 367.4v4.4M504.82 561.7v-4.4M521.8 367.4v4.4M521.8 561.7v-4.4M530.29 367.4v4.4M530.29 561.7v-4.4M538.78 367.4v4.4M538.78 561.7v-4.4M547.27 367.4v4.4M547.27 561.7v-4.4M555.76 367.4v4.4M555.76 561.7v-4.4M564.25 367.4v4.4M564.25 561.7v-4.4M572.74 367.4v4.4M572.74 561.7v-4.4M581.23 367.4v4.4M581.23 561.7v-4.4M589.72 367.4v4.4M589.72 561.7v-4.4M606.7 367.4v4.4M606.7 561.7v-4.4M615.19 367.4v4.4M615.19 561.7v-4.4M623.68 367.4v4.4M623.68 561.7v-4.4M632.17 367.4v4.4M632.17 561.7v-4.4M640.66 367.4v4.4M640.66 561.7v-4.4M649.15 367.4v4.4M649.15 561.7v-4.4M657.64 367.4v4.4M657.64 561.7v-4.4M666.13 367.4v4.4M666.13 561.7v-4.4M674.62 367.4v4.4M674.62 561.7v-4.4M691.6 367.4v4.4M691.6 561.7v-4.4M700.09 367.4v4.4M700.09 561.7v-4.4M708.58 367.4v4.4M708.58 561.7v-4.4M717.07 367.4v4.4M717.07 561.7v-4.4M725.56 367.4v4.4M725.56 561.7v-4.4M734.05 367.4v4.4M734.05 561.7v-4.4M742.54 367.4v4.4M742.54 561.7v-4.4M751.03 367.4v4.4M751.03 561.7v-4.4M759.52 367.4v4.4M759.52 561.7v-4.4M776.5 367.4v4.4M776.5 561.7v-4.4" stroke="#cc2026" stroke-width="2.8" fill="none" shape-rendering="crispEdges"/>
<path d="M88.8 367.4v9M88.8 561.7v-9M173.7 367.4v9M173.7 561.7v-9M258.6 367.4v9M258.6 561.7v-9M343.5 367.4v9M343.5 561.7v-9M428.4 367.4v9M428.4 561.7v-9M513.31 367.4v9M513.31 561.7v-9M598.21 367.4v9M598.21 561.7v-9M683.11 367.4v9M683.11 561.7v-9M768.01 367.4v9M768.01 561.7v-9" stroke="#cc2026" stroke-width="3" fill="none" shape-rendering="crispEdges"/>
<path d="M90.1 563.1h5.8M90.1 515.03h5.8M90.1 466.95h5.8M90.1 418.88h5.8M90.1 370.81h5.8" stroke="#cc2026" stroke-width="2.8" fill="none"/>
<rect x="88.8" y="366" width="687.7" height="197.1" fill="none" stroke="#cc2026" stroke-width="3"/>
<path d="M87 466.35H778" stroke="#000" stroke-width="1.2" fill="none"/>
<path d="M87.3 452.5H778M87.3 481.4H778" stroke="#ff0000" stroke-width="1.3" fill="none"/>
<polygon points="480,427.4 481.76,432.37 487.04,432.51 482.85,435.73 484.35,440.79 480,437.8 475.65,440.79 477.15,435.73 472.96,432.51 478.24,432.37" fill="none" stroke="#1e90ff" stroke-width="1.15" stroke-linejoin="miter"/>
<g font-family='"DejaVu Sans", "Liberation Sans", sans-serif' font-size="20" fill="#cc2026">
<text x="88.3" y="355.6" text-anchor="middle">1.48</text>
<text x="173.2" y="355.6" text-anchor="middle">2.51</text>
<text x="258.1" y="355.6" text-anchor="middle">3.31</text>
<text x="343" y="355.6" text-anchor="middle">3.85</text>
<text x="427.9" y="355.6" text-anchor="middle">4.29</text>
<text x="512.81" y="355.6" text-anchor="middle">4.67</text>
<text x="597.71" y="355.6" text-anchor="middle">5.01</text>
<text x="682.61" y="355.6" text-anchor="middle">5.32</text>
<text x="767.51" y="355.6" text-anchor="middle">5.55</text>
<text x="88" y="593.3" text-anchor="middle">0</text>
<text x="172.9" y="593.3" text-anchor="middle">10</text>
<text x="257.8" y="593.3" text-anchor="middle">20</text>
<text x="342.7" y="593.3" text-anchor="middle">30</text>
<text x="427.6" y="593.3" text-anchor="middle">40</text>
<text x="512.51" y="593.3" text-anchor="middle">50</text>
<text x="597.41" y="593.3" text-anchor="middle">60</text>
<text x="682.31" y="593.3" text-anchor="middle">70</text>
<text x="767.21" y="593.3" text-anchor="middle">80</text>
<text x="81" y="379.8" text-anchor="end">20</text>
<text x="81" y="426.68" text-anchor="end">10</text>
<text x="81" y="474.75" text-anchor="end">0</text>
<text x="81" y="522.83" text-anchor="end">−10</text>
<text x="81" y="564" text-anchor="end">−20</text>
<text x="432" y="618.5" text-anchor="middle">Pixel</text>
<text transform="translate(22.6 465.5) rotate(-90)" text-anchor="middle" textLength="184" lengthAdjust="spacing">Space Shift [pixel]</text>
</g>
<path d="M788.6 628.9L799 618.5M793 628.9L799 622.9M797.2 628.9L799 627.1" stroke="#6e6e6e" stroke-width="1.1" fill="none"/>
</g>
<g transform="translate(800,0)">
<use href="#spec"/>
<path d="M97.29 367.4v4.4M97.29 561.7v-4.4M105.78 367.4v4.4M105.78 561.7v-4.4M114.27 367.4v4.4M114.27 561.7v-4.4M122.76 367.4v4.4M122.76 561.7v-4.4M131.25 367.4v4.4M131.25 561.7v-4.4M139.74 367.4v4.4M139.74 561.7v-4.4M148.23 367.4v4.4M148.23 561.7v-4.4M156.72 367.4v4.4M156.72 561.7v-4.4M165.21 367.4v4.4M165.21 561.7v-4.4M182.19 367.4v4.4M182.19 561.7v-4.4M190.68 367.4v4.4M190.68 561.7v-4.4M199.17 367.4v4.4M199.17 561.7v-4.4M207.66 367.4v4.4M207.66 561.7v-4.4M216.15 367.4v4.4M216.15 561.7v-4.4M224.64 367.4v4.4M224.64 561.7v-4.4M233.13 367.4v4.4M233.13 561.7v-4.4M241.62 367.4v4.4M241.62 561.7v-4.4M250.11 367.4v4.4M250.11 561.7v-4.4M267.09 367.4v4.4M267.09 561.7v-4.4M275.58 367.4v4.4M275.58 561.7v-4.4M284.07 367.4v4.4M284.07 561.7v-4.4M292.56 367.4v4.4M292.56 561.7v-4.4M301.05 367.4v4.4M301.05 561.7v-4.4M309.54 367.4v4.4M309.54 561.7v-4.4M318.03 367.4v4.4M318.03 561.7v-4.4M326.52 367.4v4.4M326.52 561.7v-4.4M335.01 367.4v4.4M335.01 561.7v-4.4M351.99 367.4v4.4M351.99 561.7v-4.4M360.48 367.4v4.4M360.48 561.7v-4.4M368.97 367.4v4.4M368.97 561.7v-4.4M377.46 367.4v4.4M377.46 561.7v-4.4M385.95 367.4v4.4M385.95 561.7v-4.4M394.44 367.4v4.4M394.44 561.7v-4.4M402.93 367.4v4.4M402.93 561.7v-4.4M411.42 367.4v4.4M411.42 561.7v-4.4M419.91 367.4v4.4M419.91 561.7v-4.4M436.9 367.4v4.4M436.9 561.7v-4.4M445.39 367.4v4.4M445.39 561.7v-4.4M453.88 367.4v4.4M453.88 561.7v-4.4M462.37 367.4v4.4M462.37 561.7v-4.4M470.86 367.4v4.4M470.86 561.7v-4.4M479.35 367.4v4.4M479.35 561.7v-4.4M487.84 367.4v4.4M487.84 561.7v-4.4M496.33 367.4v4.4M496.33 561.7v-4.4M504.82 367.4v4.4M504.82 561.7v-4.4M521.8 367.4v4.4M521.8 561.7v-4.4M530.29 367.4v4.4M530.29 561.7v-4.4M538.78 367.4v4.4M538.78 561.7v-4.4M547.27 367.4v4.4M547.27 561.7v-4.4M555.76 367.4v4.4M555.76 561.7v-4.4M564.25 367.4v4.4M564.25 561.7v-4.4M572.74 367.4v4.4M572.74 561.7v-4.4M581.23 367.4v4.4M581.23 561.7v-4.4M589.72 367.4v4.4M589.72 561.7v-4.4M606.7 367.4v4.4M606.7 561.7v-4.4M615.19 367.4v4.4M615.19 561.7v-4.4M623.68 367.4v4.4M623.68 561.7v-4.4M632.17 367.4v4.4M632.17 561.7v-4.4M640.66 367.4v4.4M640.66 561.7v-4.4M649.15 367.4v4.4M649.15 561.7v-4.4M657.64 367.4v4.4M657.64 561.7v-4.4M666.13 367.4v4.4M666.13 561.7v-4.4M674.62 367.4v4.4M674.62 561.7v-4.4M691.6 367.4v4.4M691.6 561.7v-4.4M700.09 367.4v4.4M700.09 561.7v-4.4M708.58 367.4v4.4M708.58 561.7v-4.4M717.07 367.4v4.4M717.07 561.7v-4.4M725.56 367.4v4.4M725.56 561.7v-4.4M734.05 367.4v4.4M734.05 561.7v-4.4M742.54 367.4v4.4M742.54 561.7v-4.4M751.03 367.4v4.4M751.03 561.7v-4.4M759.52 367.4v4.4M759.52 561.7v-4.4M776.5 367.4v4.4M776.5 561.7v-4.4" stroke="#cc2026" stroke-width="2.8" fill="none" shape-rendering="crispEdges"/>
<path d="M88.8 367.4v9M88.8 561.7v-9M173.7 367.4v9M173.7 561.7v-9M258.6 367.4v9M258.6 561.7v-9M343.5 367.4v9M343.5 561.7v-9M428.4 367.4v9M428.4 561.7v-9M513.31 367.4v9M513.31 561.7v-9M598.21 367.4v9M598.21 561.7v-9M683.11 367.4v9M683.11 561.7v-9M768.01 367.4v9M768.01 561.7v-9" stroke="#cc2026" stroke-width="3" fill="none" shape-rendering="crispEdges"/>
<path d="M90.1 563.1h5.8M90.1 515.03h5.8M90.1 466.95h5.8M90.1 418.88h5.8M90.1 370.81h5.8" stroke="#cc2026" stroke-width="2.8" fill="none"/>
<rect x="88.8" y="366" width="687.7" height="197.1" fill="none" stroke="#cc2026" stroke-width="3"/>
<path d="M87 466.35H778" stroke="#000" stroke-width="1.2" fill="none"/>
<path d="M87.3 452.5H778M87.3 481.4H778" stroke="#ff0000" stroke-width="1.3" fill="none"/>
<polygon points="480,427.4 481.76,432.37 487.04,432.51 482.85,435.73 484.35,440.79 480,437.8 475.65,440.79 477.15,435.73 472.96,432.51 478.24,432.37" fill="none" stroke="#1e90ff" stroke-width="1.15" stroke-linejoin="miter"/>
<g font-family='"DejaVu Sans", "Liberation Sans", sans-serif' font-size="20" fill="#cc2026">
<text x="88.3" y="355.6" text-anchor="middle">1.48</text>
<text x="173.2" y="355.6" text-anchor="middle">2.51</text>
<text x="258.1" y="355.6" text-anchor="middle">3.31</text>
<text x="343" y="355.6" text-anchor="middle">3.85</text>
<text x="427.9" y="355.6" text-anchor="middle">4.29</text>
<text x="512.81" y="355.6" text-anchor="middle">4.67</text>
<text x="597.71" y="355.6" text-anchor="middle">5.01</text>
<text x="682.61" y="355.6" text-anchor="middle">5.32</text>
<text x="767.51" y="355.6" text-anchor="middle">5.55</text>
<text x="88" y="593.3" text-anchor="middle">0</text>
<text x="172.9" y="593.3" text-anchor="middle">10</text>
<text x="257.8" y="593.3" text-anchor="middle">20</text>
<text x="342.7" y="593.3" text-anchor="middle">30</text>
<text x="427.6" y="593.3" text-anchor="middle">40</text>
<text x="512.51" y="593.3" text-anchor="middle">50</text>
<text x="597.41" y="593.3" text-anchor="middle">60</text>
<text x="682.31" y="593.3" text-anchor="middle">70</text>
<text x="767.21" y="593.3" text-anchor="middle">80</text>
<text x="81" y="379.8" text-anchor="end">20</text>
<text x="81" y="426.68" text-anchor="end">10</text>
<text x="81" y="474.75" text-anchor="end">0</text>
<text x="81" y="522.83" text-anchor="end">−10</text>
<text x="81" y="564" text-anchor="end">−20</text>
<text x="432" y="618.5" text-anchor="middle">Pixel</text>
<text transform="translate(22.6 465.5) rotate(-90)" text-anchor="middle" textLength="184" lengthAdjust="spacing">Space Shift [pixel]</text>
</g>
<path d="M788.6 628.9L799 618.5M793 628.9L799 622.9M797.2 628.9L799 627.1" stroke="#6e6e6e" stroke-width="1.1" fill="none"/>
</g>
</svg>
</body>
</html>
